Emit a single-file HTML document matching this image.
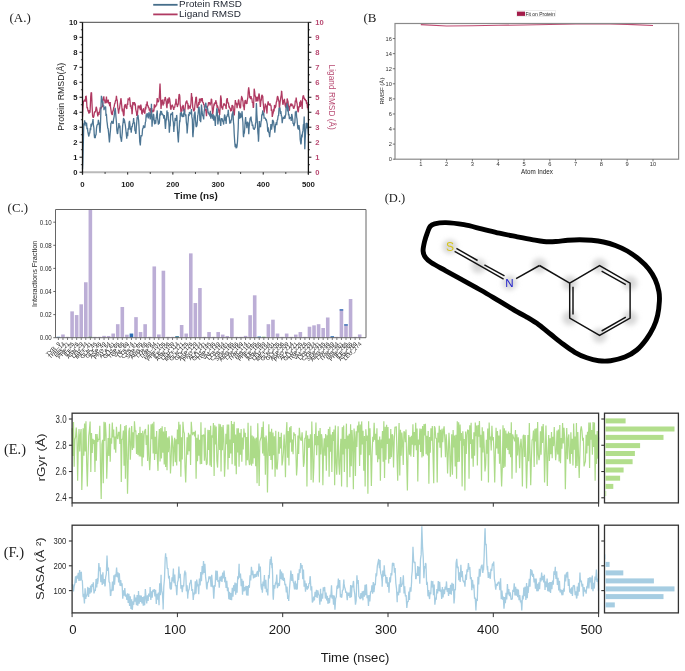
<!DOCTYPE html>
<html><head><meta charset="utf-8"><title>figure</title>
<style>html,body{margin:0;padding:0;background:#fff;width:685px;height:671px;overflow:hidden}svg{display:block;will-change:transform}</style>
</head><body>
<svg width="685" height="671" viewBox="0 0 685 671">
<rect width="685" height="671" fill="#fff"/>
<text x="9.5" y="21.9" font-size="13.2" fill="#222" text-anchor="start" font-weight="normal" font-family='"Liberation Serif", serif' textLength="21.3" lengthAdjust="spacingAndGlyphs" >(A.)</text>
<text x="363.4" y="21.7" font-size="13.2" fill="#222" text-anchor="start" font-weight="normal" font-family='"Liberation Serif", serif' textLength="13" lengthAdjust="spacingAndGlyphs" >(B</text>
<text x="7.6" y="212.1" font-size="13.2" fill="#222" text-anchor="start" font-weight="normal" font-family='"Liberation Serif", serif' textLength="20.4" lengthAdjust="spacingAndGlyphs" >(C.)</text>
<text x="384.7" y="201.7" font-size="12.8" fill="#222" text-anchor="start" font-weight="normal" font-family='"Liberation Serif", serif' textLength="20.5" lengthAdjust="spacingAndGlyphs" >(D.)</text>
<text x="4" y="453.9" font-size="14.2" fill="#222" text-anchor="start" font-weight="normal" font-family='"Liberation Serif", serif' textLength="22" lengthAdjust="spacingAndGlyphs" >(E.)</text>
<text x="3.7" y="557.2" font-size="14" fill="#222" text-anchor="start" font-weight="normal" font-family='"Liberation Serif", serif' textLength="20.4" lengthAdjust="spacingAndGlyphs" >(F.)</text>
<line x1="153.2" y1="4.8" x2="177.6" y2="4.8" stroke="#466e8a" stroke-width="1.8" />
<line x1="153.2" y1="14.4" x2="177.6" y2="14.4" stroke="#b03a62" stroke-width="1.8" />
<text x="179.1" y="6.9" font-size="8.8" fill="#1e2430" text-anchor="start" font-weight="normal" font-family='"Liberation Sans", sans-serif' textLength="62.7" lengthAdjust="spacingAndGlyphs" >Protein RMSD</text>
<text x="179.1" y="16.9" font-size="8.8" fill="#1e2430" text-anchor="start" font-weight="normal" font-family='"Liberation Sans", sans-serif' textLength="61.8" lengthAdjust="spacingAndGlyphs" >Ligand RMSD</text>
<polyline points="82.50,116.74 82.68,112.24 82.95,107.08 83.36,102.05 83.86,101.12 84.35,100.10 84.76,100.38 85.35,101.45 85.66,96.49 86.20,96.35 86.57,100.24 87.02,108.19 87.47,107.87 88.01,110.89 88.37,111.29 89.01,113.59 89.28,110.08 89.73,112.92 90.09,111.49 90.72,96.80 91.08,92.90 91.54,92.45 92.12,106.84 92.62,116.14 92.89,116.66 93.30,117.64 93.89,116.14 94.25,113.63 94.61,111.49 95.15,111.95 95.42,112.24 96.19,106.84 96.51,107.62 96.91,109.54 97.59,114.94 97.86,116.34 98.22,112.24 98.90,114.94 99.22,112.20 99.62,112.24 100.30,107.44 100.57,109.23 101.11,108.19 101.48,107.44 102.11,106.24 102.38,106.36 102.83,99.02 103.10,100.10 103.82,96.35 104.19,100.74 104.50,99.50 105.09,102.87 105.41,102.80 105.99,100.61 106.22,99.50 106.45,96.43 106.90,103.29 107.21,100.10 107.80,102.03 108.21,99.50 108.70,103.56 109.02,102.05 109.70,106.24 110.20,102.05 110.51,107.00 110.92,109.54 111.51,113.59 111.87,114.26 112.32,114.94 112.77,111.16 113.22,110.89 113.67,107.63 114.13,106.84 114.58,103.84 114.89,103.55 115.62,100.10 115.93,100.46 116.43,95.75 116.84,100.14 117.20,100.10 117.92,108.19 118.19,109.91 118.60,113.59 119.10,108.98 119.41,109.54 120.00,104.75 120.32,103.25 120.90,98.20 121.22,100.10 121.81,106.65 122.03,109.54 122.26,111.38 122.71,108.57 123.03,112.24 123.70,116.14 124.07,114.35 124.43,106.24 125.01,104.74 125.42,104.27 126.01,108.19 126.32,106.79 126.78,109.03 127.00,106.24 127.23,103.60 127.68,105.04 127.91,100.85 128.13,99.14 128.72,99.50 129.04,99.74 129.53,97.40 129.94,100.41 130.44,106.84 130.84,104.82 131.29,108.19 131.75,109.15 131.97,113.59 132.20,113.59 132.83,102.05 133.10,105.05 133.55,102.24 133.82,104.15 134.46,102.15 134.82,104.74 135.36,104.39 135.63,108.94 136.44,112.24 136.72,115.36 137.30,115.54 137.62,111.99 138.12,105.49 138.52,108.18 139.11,105.49 139.43,108.52 139.88,105.54 140.10,108.19 140.33,110.22 140.78,104.63 141.14,106.24 141.82,113.59 142.14,113.81 142.72,109.54 143.04,111.01 143.54,108.19 143.94,112.74 144.53,110.89 144.85,113.81 145.44,106.84 145.75,109.40 146.34,104.15 146.66,105.38 147.24,101.45 147.56,106.12 148.15,105.49 148.46,108.28 148.91,107.44 149.37,110.68 149.91,108.94 150.27,112.50 150.72,108.17 150.95,112.24 151.17,115.68 151.72,108.19 152.08,111.01 152.62,110.89 152.98,112.22 153.61,109.54 153.88,111.53 154.34,104.36 154.65,108.19 155.24,105.76 155.65,106.84 156.14,104.54 156.64,105.49 157.23,98.15 157.50,102.24 157.95,101.45 158.40,102.02 158.85,100.10 159.31,97.27 159.53,93.35 159.76,88.36 160.03,83.46 160.62,98.75 161.02,108.94 161.75,100.10 162.02,101.82 162.42,99.50 163.01,105.49 163.37,103.91 163.91,103.55 164.28,99.31 164.73,100.10 165.18,97.00 165.54,98.15 166.22,102.05 166.53,105.91 166.94,108.19 167.57,100.10 167.89,98.58 168.48,103.55 168.79,100.40 169.16,97.40 169.74,99.50 170.15,102.88 170.65,109.54 171.05,109.19 171.46,105.49 171.96,106.21 172.36,104.74 172.86,106.81 173.13,107.44 173.76,109.90 174.13,106.84 174.67,107.75 175.16,104.15 175.57,103.96 176.02,98.75 176.47,104.44 176.84,103.55 177.38,107.02 177.65,105.49 178.28,104.04 178.55,99.50 179.14,94.10 179.64,95.09 179.86,97.40 180.09,104.06 180.54,106.84 180.99,112.55 181.44,110.14 181.90,111.45 182.26,106.84 182.80,106.19 183.03,105.49 183.25,105.61 183.84,110.89 184.15,109.72 184.74,112.24 185.06,108.49 185.56,104.15 185.96,102.13 186.37,101.45 186.87,100.57 187.23,103.55 187.77,102.99 188.13,109.54 188.67,104.78 188.94,106.84 189.76,106.24 190.03,108.86 190.66,105.49 190.93,103.47 191.47,93.05 191.84,98.27 192.24,96.80 192.74,107.34 193.06,108.19 193.64,110.64 193.96,110.89 194.55,109.69 194.86,105.49 195.63,100.10 195.90,96.94 196.44,97.40 196.85,104.74 197.26,107.96 197.75,106.84 198.16,105.67 198.75,102.05 199.06,104.89 199.52,98.53 199.74,100.85 199.97,103.02 200.42,98.70 200.74,100.10 201.32,98.29 201.73,101.45 202.23,98.10 202.77,102.80 203.13,102.13 203.76,104.74 204.03,104.38 204.49,107.78 204.76,108.19 205.39,110.56 205.75,108.94 206.47,116.14 206.75,112.11 207.15,110.14 207.65,105.78 207.96,106.24 208.55,102.29 208.96,103.55 209.46,102.37 210.09,105.49 210.36,103.73 210.95,102.80 211.26,98.79 211.67,99.50 212.26,108.94 212.62,114.42 212.98,112.24 213.66,106.84 213.97,104.35 214.56,104.74 214.88,102.42 215.33,103.97 215.56,102.05 215.78,100.22 216.23,102.40 216.55,102.80 217.14,108.24 217.36,105.49 217.59,106.05 218.18,108.19 218.49,109.13 219.08,112.84 219.40,110.84 219.67,114.94 220.25,105.49 220.66,95.45 221.25,98.75 221.65,107.23 221.88,108.19 222.11,107.42 222.56,109.54 223.01,106.47 223.46,105.49 223.91,103.39 224.27,104.15 224.82,104.53 225.09,105.49 225.72,105.70 225.95,108.19 226.17,108.26 226.58,100.10 227.26,98.15 227.53,101.15 228.16,103.55 228.43,102.47 228.97,106.84 229.33,106.69 229.79,108.19 230.24,108.39 230.69,111.49 231.14,109.18 231.50,110.89 232.05,104.95 232.32,105.49 233.08,106.24 233.40,111.54 233.99,114.94 234.30,115.19 234.67,109.54 235.34,100.10 235.66,101.96 236.16,103.55 236.56,103.14 237.06,108.19 237.47,104.98 237.78,105.49 238.37,100.68 238.69,99.50 239.46,104.74 239.73,107.26 240.27,108.19 240.63,107.25 240.90,102.05 241.58,96.80 241.99,97.11 242.30,98.75 242.98,101.45 243.34,106.05 243.57,106.24 243.79,106.34 244.29,110.14 244.70,103.24 244.97,100.85 245.60,100.10 246.05,103.28 246.50,103.55 246.96,103.49 247.41,99.50 247.86,97.45 248.18,92.15 248.67,87.36 249.39,92.75 249.67,97.31 250.16,97.40 250.57,99.10 250.98,96.05 251.47,98.62 251.88,98.75 252.38,102.97 252.78,102.05 253.28,107.93 253.60,106.84 254.18,88.71 254.64,91.62 254.91,94.85 255.72,97.40 255.99,101.61 256.58,100.10 256.89,97.68 257.30,96.80 257.80,101.35 258.07,100.10 258.88,94.10 259.15,93.63 259.56,97.40 260.06,102.34 260.37,106.84 260.96,100.15 261.28,100.10 261.86,94.73 262.27,95.45 262.77,96.48 263.08,102.05 263.76,108.19 264.12,112.67 264.39,110.89 265.03,106.79 265.30,103.55 265.93,106.62 266.20,105.49 266.97,113.59 267.29,106.71 267.78,103.55 268.19,101.37 268.69,104.74 269.09,103.87 269.50,105.49 270.00,103.30 270.31,104.74 270.90,105.62 271.13,106.84 271.35,110.97 271.80,109.41 272.03,111.49 272.26,116.99 272.89,113.59 273.16,113.28 273.79,108.94 274.06,111.46 274.51,104.92 274.92,108.19 275.42,107.26 275.83,106.24 276.32,101.96 276.73,101.45 277.23,97.30 277.63,96.05 278.13,97.93 278.45,100.10 279.03,101.66 279.26,106.84 279.48,107.95 280.07,102.80 280.39,100.16 280.80,97.40 281.29,94.76 281.52,91.40 281.74,91.46 282.20,97.40 282.83,104.74 283.10,104.31 283.73,100.10 284.00,100.96 284.41,98.75 284.91,103.79 285.22,105.49 285.81,107.66 286.04,106.84 286.26,102.64 286.71,106.07 286.94,102.05 287.17,98.43 287.57,100.10 288.07,101.97 288.29,104.74 288.52,106.92 288.97,108.19 289.42,110.80 289.79,106.24 290.33,105.77 290.60,103.55 291.23,106.23 291.50,103.55 292.32,105.49 292.59,104.68 293.22,107.44 293.49,108.27 294.03,108.19 294.39,106.41 294.85,105.49 295.30,100.66 295.75,101.45 296.20,97.53 296.65,102.05 297.10,103.44 297.47,108.19 298.05,112.24 298.46,110.65 298.78,106.24 299.36,107.55 299.59,105.49 299.82,101.79 300.27,106.99 300.49,102.80 300.72,100.35 301.17,105.45 301.40,101.45 301.62,102.42 302.21,108.94 302.53,99.57 303.02,96.05 303.61,95.45 303.88,98.15 304.33,98.15 304.79,99.97 305.24,98.75 305.69,101.13 306.14,100.10 306.59,103.81 306.91,102.05 307.50,108.13 307.72,105.49 307.95,103.88 308.40,110.14" fill="none" stroke="#b03a62" stroke-width="1.3" stroke-linejoin="miter" stroke-miterlimit="2" />
<polyline points="82.50,169.20 82.77,163.21 83.09,151.21 83.40,139.97 83.81,123.18 84.31,125.40 84.60,120.33 85.21,124.22 85.62,121.98 86.11,126.27 86.57,122.90 86.79,125.58 87.02,129.31 87.47,127.91 87.70,130.38 87.92,132.23 88.51,135.17 88.83,136.50 89.41,132.78 89.73,133.51 90.32,127.98 90.63,130.10 91.08,123.81 91.31,125.58 91.54,125.74 92.12,123.18 92.44,123.07 93.03,119.14 93.34,124.31 93.89,127.98 94.25,134.93 94.52,137.57 95.29,137.57 95.60,134.76 96.01,135.17 96.51,128.17 96.91,125.58 97.50,124.38 97.86,124.95 98.40,119.73 98.76,123.13 99.31,123.18 99.67,130.36 100.12,132.78 100.57,121.68 100.80,113.74 101.02,105.67 101.43,95.90 101.93,98.05 102.20,101.75 102.83,101.87 103.19,106.54 103.73,105.30 104.01,110.14 104.64,107.11 104.91,107.74 105.63,106.54 105.99,115.89 106.40,113.74 106.90,120.98 107.21,123.18 107.80,128.69 108.03,127.98 108.25,129.67 108.79,135.17 109.16,139.43 109.43,142.37 110.10,133.98 110.51,129.59 110.92,123.18 111.42,123.04 111.82,120.93 112.32,122.68 112.73,123.18 113.22,123.59 113.49,119.73 114.13,116.59 114.40,113.74 115.12,107.74 115.48,110.31 115.80,114.94 116.52,123.18 116.84,130.11 117.42,133.98 117.74,133.38 118.10,129.18 118.64,126.44 118.92,123.18 119.55,128.12 119.91,125.58 120.45,137.50 120.72,137.27 121.49,141.77 121.81,137.37 122.26,132.65 122.62,126.03 123.16,121.80 123.39,119.44 123.61,117.95 124.07,122.86 124.34,119.44 124.97,123.31 125.24,124.53 126.01,131.28 126.32,134.12 126.73,138.77 127.23,132.43 127.45,132.78 127.68,136.24 128.13,128.19 128.63,129.78 129.04,122.94 129.53,120.93 129.94,124.83 130.30,129.78 130.84,127.82 131.20,132.78 131.93,126.03 132.20,127.07 132.83,123.03 133.10,123.75 133.64,117.94 134.01,123.58 134.50,122.28 134.91,130.47 135.41,131.28 135.81,133.87 136.04,132.78 136.26,127.96 136.81,121.53 137.17,116.72 137.62,117.76 137.94,114.94 138.66,120.93 138.97,125.96 139.25,131.28 139.74,141.77 140.33,145.37 140.78,138.16 141.05,135.77 141.82,135.77 142.14,134.63 142.63,128.28 143.04,128.61 143.54,125.28 143.94,128.20 144.44,126.03 144.85,127.80 145.35,122.28 145.75,121.15 146.20,114.34 146.43,115.54 146.66,117.39 147.11,113.11 147.42,116.44 148.01,113.75 148.33,118.54 148.91,112.30 149.23,113.44 149.82,115.63 150.22,119.44 150.72,113.98 150.95,113.44 151.17,112.45 151.44,103.70 152.03,126.78 152.53,119.26 152.85,119.44 153.43,113.90 153.75,114.94 154.43,123.03 154.79,124.23 155.42,120.03 155.69,123.62 156.14,117.97 156.46,116.44 157.23,110.44 157.50,117.81 158.04,120.93 158.40,124.59 158.94,121.53 159.31,123.61 159.94,113.44 160.21,115.64 160.66,110.85 161.02,111.94 161.56,111.29 161.93,114.94 162.47,114.21 162.83,114.94 163.37,115.16 163.82,118.54 164.28,115.16 164.73,118.54 165.18,125.93 165.45,129.03 166.22,118.54 166.53,120.57 166.94,110.44 167.44,115.32 167.85,111.94 168.34,118.66 168.84,122.28 169.34,132.78 169.70,126.36 169.92,126.03 170.15,125.85 170.74,113.44 171.05,115.11 171.64,113.44 171.96,114.97 172.54,111.94 172.86,120.05 173.36,122.28 173.85,132.03 174.22,125.12 174.58,125.28 175.12,118.51 175.39,118.54 176.11,120.93 176.66,114.94 176.93,117.22 177.24,126.03 177.83,135.77 178.37,142.52 178.73,134.22 179.05,131.28 179.64,120.34 179.86,122.28 180.09,119.74 180.41,112.69 180.99,115.43 181.26,111.94 181.90,116.67 182.26,114.94 182.80,117.02 183.39,113.44 183.70,117.03 184.15,109.29 184.43,111.19 185.06,114.00 185.65,115.54 185.96,115.35 186.32,122.28 186.87,126.21 187.14,133.53 187.86,123.78 188.22,120.55 188.54,114.94 189.12,115.19 189.44,111.94 190.03,113.76 190.44,112.69 190.93,114.22 191.43,108.94 191.84,116.90 192.33,119.44 192.74,134.93 192.97,137.27 193.19,133.33 193.64,128.28 194.09,116.13 194.55,113.44 195.00,111.61 195.22,114.94 195.45,119.65 196.04,126.03 196.35,127.10 196.94,125.28 197.26,122.43 197.71,115.57 197.93,114.94 198.16,113.25 198.61,107.54 199.06,106.69 199.52,112.09 199.97,120.93 200.42,119.56 200.65,122.28 200.87,119.81 201.46,104.45 201.78,108.26 202.14,111.94 202.68,116.12 202.95,114.94 203.67,119.44 204.03,113.10 204.35,110.44 204.94,106.27 205.39,104.45 205.84,102.69 206.38,108.19 206.75,106.20 207.24,109.69 207.65,108.28 208.10,113.08 208.37,111.94 209.00,114.64 209.46,113.44 209.91,116.39 210.36,110.80 210.59,114.94 210.81,118.81 211.26,113.51 211.67,116.44 212.17,114.76 212.62,118.72 212.84,117.94 213.07,114.01 213.52,120.57 213.97,115.54 214.43,116.94 214.83,119.44 215.33,126.04 215.56,121.53 215.78,117.14 216.37,114.94 216.68,109.08 217.05,108.19 217.59,115.99 217.86,124.53 218.54,118.54 218.94,118.28 219.26,114.94 219.85,121.55 220.07,120.93 220.30,122.83 220.75,126.03 221.20,118.37 221.74,119.44 222.11,118.30 222.74,121.53 223.01,120.56 223.64,124.53 223.91,120.94 224.55,114.94 224.82,114.72 225.45,120.93 225.72,118.75 226.17,123.88 226.44,117.04 227.08,116.47 227.35,114.94 227.98,113.41 228.25,109.69 228.88,117.47 229.15,116.44 229.79,123.68 230.15,120.93 230.69,123.07 231.05,120.03 231.59,119.94 231.96,114.94 232.68,112.69 232.95,111.26 233.49,122.28 233.85,125.35 234.17,133.23 234.71,141.77 235.21,147.15 235.62,143.87 236.11,147.86 236.65,147.77 237.02,146.30 237.47,141.77 237.92,133.56 238.19,128.28 238.69,111.19 239.27,113.79 239.50,118.54 239.73,118.17 240.18,112.69 240.63,117.71 241.17,116.44 241.53,116.14 242.08,111.19 242.44,117.66 242.89,122.28 243.34,135.26 243.57,137.27 243.79,134.19 244.38,132.78 244.70,128.70 245.28,120.03 245.60,116.97 245.96,122.28 246.50,123.94 246.86,128.28 247.41,121.87 247.86,122.28 248.31,123.68 248.76,134.28 249.21,126.33 249.67,122.28 250.12,118.34 250.48,117.94 251.02,116.66 251.38,120.93 251.92,122.49 252.29,126.03 252.83,124.61 253.28,128.28 253.73,128.59 254.18,129.78 254.64,127.73 255.09,128.28 255.54,123.22 255.86,122.28 256.40,102.95 256.89,114.68 257.17,118.54 257.89,132.78 258.25,135.65 258.48,141.77 258.70,138.11 259.29,120.93 259.61,127.11 260.19,126.03 260.51,127.16 261.10,120.93 261.41,121.29 261.77,114.94 262.32,114.20 262.77,110.44 263.22,115.34 263.67,112.69 264.12,118.11 264.58,117.94 265.03,118.24 265.48,118.36 265.80,120.03 266.38,119.89 266.88,122.28 267.29,124.18 267.74,131.67 267.96,128.28 268.19,127.22 268.64,132.75 269.00,132.03 269.68,137.27 270.00,132.93 270.58,128.28 270.90,123.98 271.53,129.78 271.80,127.27 272.26,124.90 272.53,120.03 272.98,120.48 273.61,121.89 273.97,125.43 274.51,128.63 274.79,132.78 275.55,124.53 275.87,124.28 276.37,122.13 276.77,125.10 277.23,119.80 277.50,120.48 278.13,115.80 278.58,115.54 279.03,107.69 279.62,109.84 279.94,107.46 280.52,113.89 280.84,111.00 281.43,116.44 281.74,115.75 282.20,123.09 282.42,121.23 282.65,119.12 283.10,118.75 283.42,117.19 284.00,118.86 284.54,115.54 284.91,118.54 285.31,116.44 285.81,114.23 286.04,108.19 286.26,106.13 286.80,106.54 287.17,103.20 287.62,111.39 287.84,108.94 288.07,106.50 288.52,115.59 288.75,113.89 288.97,114.56 289.42,119.10 289.88,117.19 290.33,117.76 290.96,117.94 291.23,120.95 291.68,114.04 291.95,114.79 292.77,119.73 293.04,123.40 293.58,123.78 293.94,126.18 294.57,123.03 294.85,122.67 295.39,111.49 295.75,113.33 296.20,110.74 296.65,117.04 297.01,118.84 297.74,127.83 298.01,128.39 298.55,129.48 298.91,125.11 299.36,127.83 299.82,131.54 300.18,139.37 300.90,144.32 301.17,143.24 301.71,134.43 302.07,137.38 302.48,132.78 302.98,130.63 303.39,124.53 303.88,124.21 304.20,116.44 304.79,149.27 305.24,137.62 305.55,132.78 306.14,123.09 306.37,126.18 306.59,128.49 307.04,123.46 307.50,123.78 307.95,127.60 308.40,134.43" fill="none" stroke="#4c7593" stroke-width="1.3" stroke-linejoin="miter" stroke-miterlimit="2" />
<line x1="82.5" y1="22.3" x2="308.4" y2="22.3" stroke="#333" stroke-width="0.9" />
<line x1="82.5" y1="172.2" x2="308.4" y2="172.2" stroke="#bababa" stroke-width="2.0" />
<line x1="82.5" y1="22.3" x2="82.5" y2="174.5" stroke="#111" stroke-width="1.3" />
<line x1="308.4" y1="22.3" x2="308.4" y2="174.5" stroke="#111" stroke-width="1.3" />
<line x1="79.5" y1="172.2" x2="82.5" y2="172.2" stroke="#111" stroke-width="1" />
<line x1="308.4" y1="172.2" x2="311.4" y2="172.2" stroke="#111" stroke-width="1" />
<text x="77.4" y="175.2" font-size="7.6" fill="#1a1a1a" text-anchor="end" font-weight="bold" font-family='"Liberation Sans", sans-serif' >0</text>
<text x="315.2" y="175.2" font-size="7.6" fill="#b84a72" text-anchor="start" font-weight="bold" font-family='"Liberation Sans", sans-serif' >0</text>
<line x1="80.9" y1="164.7" x2="82.5" y2="164.7" stroke="#111" stroke-width="0.8" />
<line x1="308.4" y1="164.7" x2="310" y2="164.7" stroke="#111" stroke-width="0.8" />
<line x1="79.5" y1="157.21" x2="82.5" y2="157.21" stroke="#111" stroke-width="1" />
<line x1="308.4" y1="157.21" x2="311.4" y2="157.21" stroke="#111" stroke-width="1" />
<text x="77.4" y="160.21" font-size="7.6" fill="#1a1a1a" text-anchor="end" font-weight="bold" font-family='"Liberation Sans", sans-serif' >1</text>
<text x="315.2" y="160.21" font-size="7.6" fill="#b84a72" text-anchor="start" font-weight="bold" font-family='"Liberation Sans", sans-serif' >1</text>
<line x1="80.9" y1="149.71" x2="82.5" y2="149.71" stroke="#111" stroke-width="0.8" />
<line x1="308.4" y1="149.71" x2="310" y2="149.71" stroke="#111" stroke-width="0.8" />
<line x1="79.5" y1="142.22" x2="82.5" y2="142.22" stroke="#111" stroke-width="1" />
<line x1="308.4" y1="142.22" x2="311.4" y2="142.22" stroke="#111" stroke-width="1" />
<text x="77.4" y="145.22" font-size="7.6" fill="#1a1a1a" text-anchor="end" font-weight="bold" font-family='"Liberation Sans", sans-serif' >2</text>
<text x="315.2" y="145.22" font-size="7.6" fill="#b84a72" text-anchor="start" font-weight="bold" font-family='"Liberation Sans", sans-serif' >2</text>
<line x1="80.9" y1="134.72" x2="82.5" y2="134.72" stroke="#111" stroke-width="0.8" />
<line x1="308.4" y1="134.72" x2="310" y2="134.72" stroke="#111" stroke-width="0.8" />
<line x1="79.5" y1="127.23" x2="82.5" y2="127.23" stroke="#111" stroke-width="1" />
<line x1="308.4" y1="127.23" x2="311.4" y2="127.23" stroke="#111" stroke-width="1" />
<text x="77.4" y="130.23" font-size="7.6" fill="#1a1a1a" text-anchor="end" font-weight="bold" font-family='"Liberation Sans", sans-serif' >3</text>
<text x="315.2" y="130.23" font-size="7.6" fill="#b84a72" text-anchor="start" font-weight="bold" font-family='"Liberation Sans", sans-serif' >3</text>
<line x1="80.9" y1="119.73" x2="82.5" y2="119.73" stroke="#111" stroke-width="0.8" />
<line x1="308.4" y1="119.73" x2="310" y2="119.73" stroke="#111" stroke-width="0.8" />
<line x1="79.5" y1="112.24" x2="82.5" y2="112.24" stroke="#111" stroke-width="1" />
<line x1="308.4" y1="112.24" x2="311.4" y2="112.24" stroke="#111" stroke-width="1" />
<text x="77.4" y="115.24" font-size="7.6" fill="#1a1a1a" text-anchor="end" font-weight="bold" font-family='"Liberation Sans", sans-serif' >4</text>
<text x="315.2" y="115.24" font-size="7.6" fill="#b84a72" text-anchor="start" font-weight="bold" font-family='"Liberation Sans", sans-serif' >4</text>
<line x1="80.9" y1="104.74" x2="82.5" y2="104.74" stroke="#111" stroke-width="0.8" />
<line x1="308.4" y1="104.74" x2="310" y2="104.74" stroke="#111" stroke-width="0.8" />
<line x1="79.5" y1="97.25" x2="82.5" y2="97.25" stroke="#111" stroke-width="1" />
<line x1="308.4" y1="97.25" x2="311.4" y2="97.25" stroke="#111" stroke-width="1" />
<text x="77.4" y="100.25" font-size="7.6" fill="#1a1a1a" text-anchor="end" font-weight="bold" font-family='"Liberation Sans", sans-serif' >5</text>
<text x="315.2" y="100.25" font-size="7.6" fill="#b84a72" text-anchor="start" font-weight="bold" font-family='"Liberation Sans", sans-serif' >5</text>
<line x1="80.9" y1="89.75" x2="82.5" y2="89.75" stroke="#111" stroke-width="0.8" />
<line x1="308.4" y1="89.75" x2="310" y2="89.75" stroke="#111" stroke-width="0.8" />
<line x1="79.5" y1="82.26" x2="82.5" y2="82.26" stroke="#111" stroke-width="1" />
<line x1="308.4" y1="82.26" x2="311.4" y2="82.26" stroke="#111" stroke-width="1" />
<text x="77.4" y="85.26" font-size="7.6" fill="#1a1a1a" text-anchor="end" font-weight="bold" font-family='"Liberation Sans", sans-serif' >6</text>
<text x="315.2" y="85.26" font-size="7.6" fill="#b84a72" text-anchor="start" font-weight="bold" font-family='"Liberation Sans", sans-serif' >6</text>
<line x1="80.9" y1="74.76" x2="82.5" y2="74.76" stroke="#111" stroke-width="0.8" />
<line x1="308.4" y1="74.76" x2="310" y2="74.76" stroke="#111" stroke-width="0.8" />
<line x1="79.5" y1="67.27" x2="82.5" y2="67.27" stroke="#111" stroke-width="1" />
<line x1="308.4" y1="67.27" x2="311.4" y2="67.27" stroke="#111" stroke-width="1" />
<text x="77.4" y="70.27" font-size="7.6" fill="#1a1a1a" text-anchor="end" font-weight="bold" font-family='"Liberation Sans", sans-serif' >7</text>
<text x="315.2" y="70.27" font-size="7.6" fill="#b84a72" text-anchor="start" font-weight="bold" font-family='"Liberation Sans", sans-serif' >7</text>
<line x1="80.9" y1="59.77" x2="82.5" y2="59.77" stroke="#111" stroke-width="0.8" />
<line x1="308.4" y1="59.77" x2="310" y2="59.77" stroke="#111" stroke-width="0.8" />
<line x1="79.5" y1="52.28" x2="82.5" y2="52.28" stroke="#111" stroke-width="1" />
<line x1="308.4" y1="52.28" x2="311.4" y2="52.28" stroke="#111" stroke-width="1" />
<text x="77.4" y="55.28" font-size="7.6" fill="#1a1a1a" text-anchor="end" font-weight="bold" font-family='"Liberation Sans", sans-serif' >8</text>
<text x="315.2" y="55.28" font-size="7.6" fill="#b84a72" text-anchor="start" font-weight="bold" font-family='"Liberation Sans", sans-serif' >8</text>
<line x1="80.9" y1="44.78" x2="82.5" y2="44.78" stroke="#111" stroke-width="0.8" />
<line x1="308.4" y1="44.78" x2="310" y2="44.78" stroke="#111" stroke-width="0.8" />
<line x1="79.5" y1="37.29" x2="82.5" y2="37.29" stroke="#111" stroke-width="1" />
<line x1="308.4" y1="37.29" x2="311.4" y2="37.29" stroke="#111" stroke-width="1" />
<text x="77.4" y="40.29" font-size="7.6" fill="#1a1a1a" text-anchor="end" font-weight="bold" font-family='"Liberation Sans", sans-serif' >9</text>
<text x="315.2" y="40.29" font-size="7.6" fill="#b84a72" text-anchor="start" font-weight="bold" font-family='"Liberation Sans", sans-serif' >9</text>
<line x1="80.9" y1="29.79" x2="82.5" y2="29.79" stroke="#111" stroke-width="0.8" />
<line x1="308.4" y1="29.79" x2="310" y2="29.79" stroke="#111" stroke-width="0.8" />
<line x1="79.5" y1="22.3" x2="82.5" y2="22.3" stroke="#111" stroke-width="1" />
<line x1="308.4" y1="22.3" x2="311.4" y2="22.3" stroke="#111" stroke-width="1" />
<text x="77.4" y="25.3" font-size="7.6" fill="#1a1a1a" text-anchor="end" font-weight="bold" font-family='"Liberation Sans", sans-serif' >10</text>
<text x="315.2" y="25.3" font-size="7.6" fill="#b84a72" text-anchor="start" font-weight="bold" font-family='"Liberation Sans", sans-serif' >10</text>
<line x1="82.5" y1="172.2" x2="82.5" y2="174.6" stroke="#222" stroke-width="1" />
<line x1="105.09" y1="172.2" x2="105.09" y2="173.8" stroke="#222" stroke-width="1" />
<line x1="127.68" y1="172.2" x2="127.68" y2="174.6" stroke="#222" stroke-width="1" />
<line x1="150.27" y1="172.2" x2="150.27" y2="173.8" stroke="#222" stroke-width="1" />
<line x1="172.86" y1="172.2" x2="172.86" y2="174.6" stroke="#222" stroke-width="1" />
<line x1="195.45" y1="172.2" x2="195.45" y2="173.8" stroke="#222" stroke-width="1" />
<line x1="218.04" y1="172.2" x2="218.04" y2="174.6" stroke="#222" stroke-width="1" />
<line x1="240.63" y1="172.2" x2="240.63" y2="173.8" stroke="#222" stroke-width="1" />
<line x1="263.22" y1="172.2" x2="263.22" y2="174.6" stroke="#222" stroke-width="1" />
<line x1="285.81" y1="172.2" x2="285.81" y2="173.8" stroke="#222" stroke-width="1" />
<line x1="308.4" y1="172.2" x2="308.4" y2="174.6" stroke="#222" stroke-width="1" />
<text x="82.5" y="187" font-size="7.8" fill="#1a1a1a" text-anchor="middle" font-weight="bold" font-family='"Liberation Sans", sans-serif' >0</text>
<text x="127.68" y="187" font-size="7.8" fill="#1a1a1a" text-anchor="middle" font-weight="bold" font-family='"Liberation Sans", sans-serif' >100</text>
<text x="172.86" y="187" font-size="7.8" fill="#1a1a1a" text-anchor="middle" font-weight="bold" font-family='"Liberation Sans", sans-serif' >200</text>
<text x="218.04" y="187" font-size="7.8" fill="#1a1a1a" text-anchor="middle" font-weight="bold" font-family='"Liberation Sans", sans-serif' >300</text>
<text x="263.22" y="187" font-size="7.8" fill="#1a1a1a" text-anchor="middle" font-weight="bold" font-family='"Liberation Sans", sans-serif' >400</text>
<text x="308.4" y="187" font-size="7.8" fill="#1a1a1a" text-anchor="middle" font-weight="bold" font-family='"Liberation Sans", sans-serif' >500</text>
<text x="196" y="199.1" font-size="9.4" fill="#1a1a1a" text-anchor="middle" font-weight="bold" font-family='"Liberation Sans", sans-serif' textLength="43.8" lengthAdjust="spacingAndGlyphs" >Time (ns)</text>
<text x="0" y="0" font-size="8.8" fill="#1a1a1a" text-anchor="middle" font-weight="normal" font-family='"Liberation Sans", sans-serif' transform="translate(64.2,96.7) rotate(-90)">Protein RMSD(Å)</text>
<text x="0" y="0" font-size="8.8" fill="#b84a72" text-anchor="middle" font-weight="normal" font-family='"Liberation Sans", sans-serif' textLength="65.2" lengthAdjust="spacingAndGlyphs" transform="translate(329,97.2) rotate(90)">Ligand RMSD (Å)</text>
<path d="M420.80,24.61 446.60,25.97 472.40,25.74 498.20,25.29 524.00,24.99 549.80,24.54 575.60,23.86 601.40,23.71 627.20,24.38 653.00,25.52" fill="none" stroke="#c04870" stroke-width="1.1"/>
<rect x="395.0" y="23.5" width="283.60" height="135.70" fill="none" stroke="#8a8a8a" stroke-width="1.2"/>
<line x1="392.8" y1="159.2" x2="395" y2="159.2" stroke="#555" stroke-width="0.8" />
<text x="391.9" y="161.2" font-size="5.7" fill="#333" text-anchor="end" font-weight="normal" font-family='"Liberation Sans", sans-serif' >0</text>
<line x1="392.8" y1="144.12" x2="395" y2="144.12" stroke="#555" stroke-width="0.8" />
<text x="391.9" y="146.12" font-size="5.7" fill="#333" text-anchor="end" font-weight="normal" font-family='"Liberation Sans", sans-serif' >2</text>
<line x1="392.8" y1="129.04" x2="395" y2="129.04" stroke="#555" stroke-width="0.8" />
<text x="391.9" y="131.04" font-size="5.7" fill="#333" text-anchor="end" font-weight="normal" font-family='"Liberation Sans", sans-serif' >4</text>
<line x1="392.8" y1="113.96" x2="395" y2="113.96" stroke="#555" stroke-width="0.8" />
<text x="391.9" y="115.96" font-size="5.7" fill="#333" text-anchor="end" font-weight="normal" font-family='"Liberation Sans", sans-serif' >6</text>
<line x1="392.8" y1="98.88" x2="395" y2="98.88" stroke="#555" stroke-width="0.8" />
<text x="391.9" y="100.88" font-size="5.7" fill="#333" text-anchor="end" font-weight="normal" font-family='"Liberation Sans", sans-serif' >8</text>
<line x1="392.8" y1="83.8" x2="395" y2="83.8" stroke="#555" stroke-width="0.8" />
<text x="391.9" y="85.8" font-size="5.7" fill="#333" text-anchor="end" font-weight="normal" font-family='"Liberation Sans", sans-serif' >10</text>
<line x1="392.8" y1="68.72" x2="395" y2="68.72" stroke="#555" stroke-width="0.8" />
<text x="391.9" y="70.72" font-size="5.7" fill="#333" text-anchor="end" font-weight="normal" font-family='"Liberation Sans", sans-serif' >12</text>
<line x1="392.8" y1="53.64" x2="395" y2="53.64" stroke="#555" stroke-width="0.8" />
<text x="391.9" y="55.64" font-size="5.7" fill="#333" text-anchor="end" font-weight="normal" font-family='"Liberation Sans", sans-serif' >14</text>
<line x1="392.8" y1="38.56" x2="395" y2="38.56" stroke="#555" stroke-width="0.8" />
<text x="391.9" y="40.56" font-size="5.7" fill="#333" text-anchor="end" font-weight="normal" font-family='"Liberation Sans", sans-serif' >16</text>
<line x1="420.8" y1="159.2" x2="420.8" y2="161.4" stroke="#555" stroke-width="0.8" />
<text x="420.8" y="166.2" font-size="5.7" fill="#333" text-anchor="middle" font-weight="normal" font-family='"Liberation Sans", sans-serif' >1</text>
<line x1="446.6" y1="159.2" x2="446.6" y2="161.4" stroke="#555" stroke-width="0.8" />
<text x="446.6" y="166.2" font-size="5.7" fill="#333" text-anchor="middle" font-weight="normal" font-family='"Liberation Sans", sans-serif' >2</text>
<line x1="472.4" y1="159.2" x2="472.4" y2="161.4" stroke="#555" stroke-width="0.8" />
<text x="472.4" y="166.2" font-size="5.7" fill="#333" text-anchor="middle" font-weight="normal" font-family='"Liberation Sans", sans-serif' >3</text>
<line x1="498.2" y1="159.2" x2="498.2" y2="161.4" stroke="#555" stroke-width="0.8" />
<text x="498.2" y="166.2" font-size="5.7" fill="#333" text-anchor="middle" font-weight="normal" font-family='"Liberation Sans", sans-serif' >4</text>
<line x1="524" y1="159.2" x2="524" y2="161.4" stroke="#555" stroke-width="0.8" />
<text x="524" y="166.2" font-size="5.7" fill="#333" text-anchor="middle" font-weight="normal" font-family='"Liberation Sans", sans-serif' >5</text>
<line x1="549.8" y1="159.2" x2="549.8" y2="161.4" stroke="#555" stroke-width="0.8" />
<text x="549.8" y="166.2" font-size="5.7" fill="#333" text-anchor="middle" font-weight="normal" font-family='"Liberation Sans", sans-serif' >6</text>
<line x1="575.6" y1="159.2" x2="575.6" y2="161.4" stroke="#555" stroke-width="0.8" />
<text x="575.6" y="166.2" font-size="5.7" fill="#333" text-anchor="middle" font-weight="normal" font-family='"Liberation Sans", sans-serif' >7</text>
<line x1="601.4" y1="159.2" x2="601.4" y2="161.4" stroke="#555" stroke-width="0.8" />
<text x="601.4" y="166.2" font-size="5.7" fill="#333" text-anchor="middle" font-weight="normal" font-family='"Liberation Sans", sans-serif' >8</text>
<line x1="627.2" y1="159.2" x2="627.2" y2="161.4" stroke="#555" stroke-width="0.8" />
<text x="627.2" y="166.2" font-size="5.7" fill="#333" text-anchor="middle" font-weight="normal" font-family='"Liberation Sans", sans-serif' >9</text>
<line x1="653" y1="159.2" x2="653" y2="161.4" stroke="#555" stroke-width="0.8" />
<text x="653" y="166.2" font-size="5.7" fill="#333" text-anchor="middle" font-weight="normal" font-family='"Liberation Sans", sans-serif' >10</text>
<text x="537" y="174.4" font-size="6.6" fill="#222" text-anchor="middle" font-weight="normal" font-family='"Liberation Sans", sans-serif' textLength="31.8" lengthAdjust="spacingAndGlyphs" >Atom Index</text>
<text x="0" y="0" font-size="6.0" fill="#222" text-anchor="middle" font-weight="normal" font-family='"Liberation Sans", sans-serif' textLength="26.8" lengthAdjust="spacingAndGlyphs" transform="translate(383.7,91) rotate(-90)">RMSF (Å)</text>
<rect x="516.8" y="10.6" width="38.6" height="5.9" fill="#fff" stroke="#ddd" stroke-width="0.5"/>
<rect x="517.0" y="11.6" width="8.0" height="4.3" fill="#a31c4a"/>
<text x="525.4" y="15.6" font-size="5.2" fill="#222" text-anchor="start" font-weight="normal" font-family='"Liberation Sans", sans-serif' textLength="29.5" lengthAdjust="spacingAndGlyphs" >Fit on Protein</text>
<rect x="56.60" y="336.80" width="3.6" height="0.90" fill="#2f6db5"/>
<line x1="58.4" y1="337.7" x2="58.4" y2="340" stroke="#444" stroke-width="0.7" />
<text x="0" y="0" font-size="5.6" fill="#262626" text-anchor="end" font-family='"Liberation Sans", sans-serif' transform="translate(60.60,344.30) rotate(-45)">TYR_9</text>
<rect x="61.16" y="334.47" width="3.6" height="3.23" fill="#bcaed6"/>
<line x1="62.96" y1="337.7" x2="62.96" y2="340" stroke="#444" stroke-width="0.7" />
<text x="0" y="0" font-size="5.6" fill="#262626" text-anchor="end" font-family='"Liberation Sans", sans-serif' transform="translate(65.16,344.30) rotate(-45)">THR_14</text>
<rect x="65.73" y="336.80" width="3.6" height="0.90" fill="#bcaed6"/>
<line x1="67.53" y1="337.7" x2="67.53" y2="340" stroke="#444" stroke-width="0.7" />
<text x="0" y="0" font-size="5.6" fill="#262626" text-anchor="end" font-family='"Liberation Sans", sans-serif' transform="translate(69.73,344.30) rotate(-45)">HIS_21</text>
<rect x="70.30" y="311.37" width="3.6" height="26.33" fill="#bcaed6"/>
<line x1="72.09" y1="337.7" x2="72.09" y2="340" stroke="#444" stroke-width="0.7" />
<text x="0" y="0" font-size="5.6" fill="#262626" text-anchor="end" font-family='"Liberation Sans", sans-serif' transform="translate(74.30,344.30) rotate(-45)">PHE_25</text>
<rect x="74.86" y="315.06" width="3.6" height="22.64" fill="#bcaed6"/>
<line x1="76.66" y1="337.7" x2="76.66" y2="340" stroke="#444" stroke-width="0.7" />
<text x="0" y="0" font-size="5.6" fill="#262626" text-anchor="end" font-family='"Liberation Sans", sans-serif' transform="translate(78.86,344.30) rotate(-45)">ILE_26</text>
<rect x="79.42" y="304.32" width="3.6" height="33.38" fill="#bcaed6"/>
<line x1="81.22" y1="337.7" x2="81.22" y2="340" stroke="#444" stroke-width="0.7" />
<text x="0" y="0" font-size="5.6" fill="#262626" text-anchor="end" font-family='"Liberation Sans", sans-serif' transform="translate(83.42,344.30) rotate(-45)">ASN_29</text>
<rect x="83.99" y="282.26" width="3.6" height="55.44" fill="#bcaed6"/>
<line x1="85.79" y1="337.7" x2="85.79" y2="340" stroke="#444" stroke-width="0.7" />
<text x="0" y="0" font-size="5.6" fill="#262626" text-anchor="end" font-family='"Liberation Sans", sans-serif' transform="translate(87.99,344.30) rotate(-45)">LEU_34</text>
<rect x="88.56" y="209.49" width="3.6" height="128.21" fill="#bcaed6"/>
<rect x="88.56" y="336.80" width="3.6" height="0.9" fill="#4aa04a"/>
<line x1="90.36" y1="337.7" x2="90.36" y2="340" stroke="#444" stroke-width="0.7" />
<text x="0" y="0" font-size="5.6" fill="#262626" text-anchor="end" font-family='"Liberation Sans", sans-serif' transform="translate(92.56,344.30) rotate(-45)">MET_41</text>
<rect x="93.12" y="336.80" width="3.6" height="0.90" fill="#bcaed6"/>
<line x1="94.92" y1="337.7" x2="94.92" y2="340" stroke="#444" stroke-width="0.7" />
<text x="0" y="0" font-size="5.6" fill="#262626" text-anchor="end" font-family='"Liberation Sans", sans-serif' transform="translate(97.12,344.30) rotate(-45)">GLN_45</text>
<rect x="97.69" y="336.80" width="3.6" height="0.90" fill="#bcaed6"/>
<line x1="99.48" y1="337.7" x2="99.48" y2="340" stroke="#444" stroke-width="0.7" />
<text x="0" y="0" font-size="5.6" fill="#262626" text-anchor="end" font-family='"Liberation Sans", sans-serif' transform="translate(101.69,344.30) rotate(-45)">GLY_46</text>
<rect x="102.25" y="335.85" width="3.6" height="1.85" fill="#bcaed6"/>
<line x1="104.05" y1="337.7" x2="104.05" y2="340" stroke="#444" stroke-width="0.7" />
<text x="0" y="0" font-size="5.6" fill="#262626" text-anchor="end" font-family='"Liberation Sans", sans-serif' transform="translate(106.25,344.30) rotate(-45)">ASP_49</text>
<rect x="106.82" y="335.97" width="3.6" height="1.73" fill="#bcaed6"/>
<line x1="108.62" y1="337.7" x2="108.62" y2="340" stroke="#444" stroke-width="0.7" />
<text x="0" y="0" font-size="5.6" fill="#262626" text-anchor="end" font-family='"Liberation Sans", sans-serif' transform="translate(110.82,344.30) rotate(-45)">PRO_54</text>
<rect x="111.38" y="333.54" width="3.6" height="4.16" fill="#bcaed6"/>
<line x1="113.18" y1="337.7" x2="113.18" y2="340" stroke="#444" stroke-width="0.7" />
<text x="0" y="0" font-size="5.6" fill="#262626" text-anchor="end" font-family='"Liberation Sans", sans-serif' transform="translate(115.38,344.30) rotate(-45)">ALA_61</text>
<rect x="115.95" y="324.19" width="3.6" height="13.51" fill="#bcaed6"/>
<line x1="117.75" y1="337.7" x2="117.75" y2="340" stroke="#444" stroke-width="0.7" />
<text x="0" y="0" font-size="5.6" fill="#262626" text-anchor="end" font-family='"Liberation Sans", sans-serif' transform="translate(119.95,344.30) rotate(-45)">GLU_65</text>
<rect x="120.51" y="306.98" width="3.6" height="30.72" fill="#bcaed6"/>
<line x1="122.31" y1="337.7" x2="122.31" y2="340" stroke="#444" stroke-width="0.7" />
<text x="0" y="0" font-size="5.6" fill="#262626" text-anchor="end" font-family='"Liberation Sans", sans-serif' transform="translate(124.51,344.30) rotate(-45)">TRP_66</text>
<rect x="125.08" y="334.70" width="3.6" height="3.00" fill="#bcaed6"/>
<line x1="126.88" y1="337.7" x2="126.88" y2="340" stroke="#444" stroke-width="0.7" />
<text x="0" y="0" font-size="5.6" fill="#262626" text-anchor="end" font-family='"Liberation Sans", sans-serif' transform="translate(129.07,344.30) rotate(-45)">VAL_69</text>
<rect x="129.64" y="333.54" width="3.6" height="4.16" fill="#2f6db5"/>
<line x1="131.44" y1="337.7" x2="131.44" y2="340" stroke="#444" stroke-width="0.7" />
<text x="0" y="0" font-size="5.6" fill="#262626" text-anchor="end" font-family='"Liberation Sans", sans-serif' transform="translate(133.64,344.30) rotate(-45)">LYS_74</text>
<rect x="134.20" y="317.14" width="3.6" height="20.56" fill="#bcaed6"/>
<line x1="136" y1="337.7" x2="136" y2="340" stroke="#444" stroke-width="0.7" />
<text x="0" y="0" font-size="5.6" fill="#262626" text-anchor="end" font-family='"Liberation Sans", sans-serif' transform="translate(138.20,344.30) rotate(-45)">CYS_81</text>
<rect x="138.77" y="332.04" width="3.6" height="5.66" fill="#bcaed6"/>
<line x1="140.57" y1="337.7" x2="140.57" y2="340" stroke="#444" stroke-width="0.7" />
<text x="0" y="0" font-size="5.6" fill="#262626" text-anchor="end" font-family='"Liberation Sans", sans-serif' transform="translate(142.77,344.30) rotate(-45)">SER_85</text>
<rect x="143.34" y="324.19" width="3.6" height="13.51" fill="#bcaed6"/>
<line x1="145.14" y1="337.7" x2="145.14" y2="340" stroke="#444" stroke-width="0.7" />
<text x="0" y="0" font-size="5.6" fill="#262626" text-anchor="end" font-family='"Liberation Sans", sans-serif' transform="translate(147.34,344.30) rotate(-45)">ARG_86</text>
<rect x="147.90" y="336.80" width="3.6" height="0.90" fill="#bcaed6"/>
<line x1="149.7" y1="337.7" x2="149.7" y2="340" stroke="#444" stroke-width="0.7" />
<text x="0" y="0" font-size="5.6" fill="#262626" text-anchor="end" font-family='"Liberation Sans", sans-serif' transform="translate(151.90,344.30) rotate(-45)">TYR_89</text>
<rect x="152.47" y="266.44" width="3.6" height="71.26" fill="#bcaed6"/>
<line x1="154.27" y1="337.7" x2="154.27" y2="340" stroke="#444" stroke-width="0.7" />
<text x="0" y="0" font-size="5.6" fill="#262626" text-anchor="end" font-family='"Liberation Sans", sans-serif' transform="translate(156.47,344.30) rotate(-45)">THR_94</text>
<rect x="157.03" y="334.47" width="3.6" height="3.23" fill="#bcaed6"/>
<line x1="158.83" y1="337.7" x2="158.83" y2="340" stroke="#444" stroke-width="0.7" />
<text x="0" y="0" font-size="5.6" fill="#262626" text-anchor="end" font-family='"Liberation Sans", sans-serif' transform="translate(161.03,344.30) rotate(-45)">HIS_101</text>
<rect x="161.59" y="270.71" width="3.6" height="66.99" fill="#bcaed6"/>
<line x1="163.4" y1="337.7" x2="163.4" y2="340" stroke="#444" stroke-width="0.7" />
<text x="0" y="0" font-size="5.6" fill="#262626" text-anchor="end" font-family='"Liberation Sans", sans-serif' transform="translate(165.59,344.30) rotate(-45)">PHE_105</text>
<rect x="166.16" y="336.80" width="3.6" height="0.90" fill="#bcaed6"/>
<line x1="167.96" y1="337.7" x2="167.96" y2="340" stroke="#444" stroke-width="0.7" />
<text x="0" y="0" font-size="5.6" fill="#262626" text-anchor="end" font-family='"Liberation Sans", sans-serif' transform="translate(170.16,344.30) rotate(-45)">ILE_106</text>
<rect x="170.72" y="336.80" width="3.6" height="0.90" fill="#bcaed6"/>
<line x1="172.53" y1="337.7" x2="172.53" y2="340" stroke="#444" stroke-width="0.7" />
<text x="0" y="0" font-size="5.6" fill="#262626" text-anchor="end" font-family='"Liberation Sans", sans-serif' transform="translate(174.72,344.30) rotate(-45)">ASN_109</text>
<rect x="175.29" y="336.20" width="3.6" height="1.50" fill="#2f6db5"/>
<rect x="175.29" y="336.80" width="3.6" height="0.9" fill="#4aa04a"/>
<line x1="177.09" y1="337.7" x2="177.09" y2="340" stroke="#444" stroke-width="0.7" />
<text x="0" y="0" font-size="5.6" fill="#262626" text-anchor="end" font-family='"Liberation Sans", sans-serif' transform="translate(179.29,344.30) rotate(-45)">LEU_114</text>
<rect x="179.85" y="325.00" width="3.6" height="12.71" fill="#bcaed6"/>
<line x1="181.66" y1="337.7" x2="181.66" y2="340" stroke="#444" stroke-width="0.7" />
<text x="0" y="0" font-size="5.6" fill="#262626" text-anchor="end" font-family='"Liberation Sans", sans-serif' transform="translate(183.85,344.30) rotate(-45)">MET_121</text>
<rect x="184.42" y="333.54" width="3.6" height="4.16" fill="#bcaed6"/>
<line x1="186.22" y1="337.7" x2="186.22" y2="340" stroke="#444" stroke-width="0.7" />
<text x="0" y="0" font-size="5.6" fill="#262626" text-anchor="end" font-family='"Liberation Sans", sans-serif' transform="translate(188.42,344.30) rotate(-45)">GLN_125</text>
<rect x="188.99" y="253.38" width="3.6" height="84.31" fill="#bcaed6"/>
<line x1="190.79" y1="337.7" x2="190.79" y2="340" stroke="#444" stroke-width="0.7" />
<text x="0" y="0" font-size="5.6" fill="#262626" text-anchor="end" font-family='"Liberation Sans", sans-serif' transform="translate(192.99,344.30) rotate(-45)">GLY_126</text>
<rect x="193.55" y="303.05" width="3.6" height="34.65" fill="#bcaed6"/>
<line x1="195.35" y1="337.7" x2="195.35" y2="340" stroke="#444" stroke-width="0.7" />
<text x="0" y="0" font-size="5.6" fill="#262626" text-anchor="end" font-family='"Liberation Sans", sans-serif' transform="translate(197.55,344.30) rotate(-45)">ASP_129</text>
<rect x="198.12" y="288.03" width="3.6" height="49.66" fill="#bcaed6"/>
<line x1="199.92" y1="337.7" x2="199.92" y2="340" stroke="#444" stroke-width="0.7" />
<text x="0" y="0" font-size="5.6" fill="#262626" text-anchor="end" font-family='"Liberation Sans", sans-serif' transform="translate(202.12,344.30) rotate(-45)">PRO_134</text>
<rect x="202.68" y="336.80" width="3.6" height="0.90" fill="#bcaed6"/>
<line x1="204.48" y1="337.7" x2="204.48" y2="340" stroke="#444" stroke-width="0.7" />
<text x="0" y="0" font-size="5.6" fill="#262626" text-anchor="end" font-family='"Liberation Sans", sans-serif' transform="translate(206.68,344.30) rotate(-45)">ALA_141</text>
<rect x="207.25" y="332.04" width="3.6" height="5.66" fill="#bcaed6"/>
<line x1="209.05" y1="337.7" x2="209.05" y2="340" stroke="#444" stroke-width="0.7" />
<text x="0" y="0" font-size="5.6" fill="#262626" text-anchor="end" font-family='"Liberation Sans", sans-serif' transform="translate(211.25,344.30) rotate(-45)">GLU_145</text>
<rect x="211.81" y="336.80" width="3.6" height="0.90" fill="#bcaed6"/>
<line x1="213.61" y1="337.7" x2="213.61" y2="340" stroke="#444" stroke-width="0.7" />
<text x="0" y="0" font-size="5.6" fill="#262626" text-anchor="end" font-family='"Liberation Sans", sans-serif' transform="translate(215.81,344.30) rotate(-45)">TRP_146</text>
<rect x="216.38" y="332.04" width="3.6" height="5.66" fill="#bcaed6"/>
<line x1="218.18" y1="337.7" x2="218.18" y2="340" stroke="#444" stroke-width="0.7" />
<text x="0" y="0" font-size="5.6" fill="#262626" text-anchor="end" font-family='"Liberation Sans", sans-serif' transform="translate(220.38,344.30) rotate(-45)">VAL_149</text>
<rect x="220.94" y="334.58" width="3.6" height="3.12" fill="#bcaed6"/>
<line x1="222.74" y1="337.7" x2="222.74" y2="340" stroke="#444" stroke-width="0.7" />
<text x="0" y="0" font-size="5.6" fill="#262626" text-anchor="end" font-family='"Liberation Sans", sans-serif' transform="translate(224.94,344.30) rotate(-45)">LYS_154</text>
<rect x="225.50" y="335.97" width="3.6" height="1.73" fill="#bcaed6"/>
<line x1="227.31" y1="337.7" x2="227.31" y2="340" stroke="#444" stroke-width="0.7" />
<text x="0" y="0" font-size="5.6" fill="#262626" text-anchor="end" font-family='"Liberation Sans", sans-serif' transform="translate(229.50,344.30) rotate(-45)">CYS_161</text>
<rect x="230.07" y="318.30" width="3.6" height="19.40" fill="#bcaed6"/>
<line x1="231.87" y1="337.7" x2="231.87" y2="340" stroke="#444" stroke-width="0.7" />
<text x="0" y="0" font-size="5.6" fill="#262626" text-anchor="end" font-family='"Liberation Sans", sans-serif' transform="translate(234.07,344.30) rotate(-45)">SER_165</text>
<rect x="234.64" y="336.80" width="3.6" height="0.90" fill="#bcaed6"/>
<line x1="236.44" y1="337.7" x2="236.44" y2="340" stroke="#444" stroke-width="0.7" />
<text x="0" y="0" font-size="5.6" fill="#262626" text-anchor="end" font-family='"Liberation Sans", sans-serif' transform="translate(238.64,344.30) rotate(-45)">ARG_166</text>
<rect x="239.20" y="336.80" width="3.6" height="0.90" fill="#bcaed6"/>
<line x1="241" y1="337.7" x2="241" y2="340" stroke="#444" stroke-width="0.7" />
<text x="0" y="0" font-size="5.6" fill="#262626" text-anchor="end" font-family='"Liberation Sans", sans-serif' transform="translate(243.20,344.30) rotate(-45)">TYR_169</text>
<rect x="243.77" y="335.85" width="3.6" height="1.85" fill="#bcaed6"/>
<line x1="245.57" y1="337.7" x2="245.57" y2="340" stroke="#444" stroke-width="0.7" />
<text x="0" y="0" font-size="5.6" fill="#262626" text-anchor="end" font-family='"Liberation Sans", sans-serif' transform="translate(247.77,344.30) rotate(-45)">THR_174</text>
<rect x="248.33" y="315.18" width="3.6" height="22.52" fill="#bcaed6"/>
<line x1="250.13" y1="337.7" x2="250.13" y2="340" stroke="#444" stroke-width="0.7" />
<text x="0" y="0" font-size="5.6" fill="#262626" text-anchor="end" font-family='"Liberation Sans", sans-serif' transform="translate(252.33,344.30) rotate(-45)">HIS_181</text>
<rect x="252.90" y="295.31" width="3.6" height="42.39" fill="#bcaed6"/>
<line x1="254.7" y1="337.7" x2="254.7" y2="340" stroke="#444" stroke-width="0.7" />
<text x="0" y="0" font-size="5.6" fill="#262626" text-anchor="end" font-family='"Liberation Sans", sans-serif' transform="translate(256.90,344.30) rotate(-45)">PHE_185</text>
<rect x="257.46" y="336.55" width="3.6" height="1.16" fill="#2f6db5"/>
<line x1="259.26" y1="337.7" x2="259.26" y2="340" stroke="#444" stroke-width="0.7" />
<text x="0" y="0" font-size="5.6" fill="#262626" text-anchor="end" font-family='"Liberation Sans", sans-serif' transform="translate(261.46,344.30) rotate(-45)">ILE_186</text>
<rect x="262.02" y="336.78" width="3.6" height="0.92" fill="#4aa04a"/>
<line x1="263.82" y1="337.7" x2="263.82" y2="340" stroke="#444" stroke-width="0.7" />
<text x="0" y="0" font-size="5.6" fill="#262626" text-anchor="end" font-family='"Liberation Sans", sans-serif' transform="translate(266.02,344.30) rotate(-45)">ASN_189</text>
<rect x="266.59" y="324.19" width="3.6" height="13.51" fill="#bcaed6"/>
<line x1="268.39" y1="337.7" x2="268.39" y2="340" stroke="#444" stroke-width="0.7" />
<text x="0" y="0" font-size="5.6" fill="#262626" text-anchor="end" font-family='"Liberation Sans", sans-serif' transform="translate(270.59,344.30) rotate(-45)">LEU_194</text>
<rect x="271.15" y="319.68" width="3.6" height="18.02" fill="#bcaed6"/>
<line x1="272.95" y1="337.7" x2="272.95" y2="340" stroke="#444" stroke-width="0.7" />
<text x="0" y="0" font-size="5.6" fill="#262626" text-anchor="end" font-family='"Liberation Sans", sans-serif' transform="translate(275.15,344.30) rotate(-45)">MET_201</text>
<rect x="275.72" y="333.54" width="3.6" height="4.16" fill="#bcaed6"/>
<line x1="277.52" y1="337.7" x2="277.52" y2="340" stroke="#444" stroke-width="0.7" />
<text x="0" y="0" font-size="5.6" fill="#262626" text-anchor="end" font-family='"Liberation Sans", sans-serif' transform="translate(279.72,344.30) rotate(-45)">GLN_205</text>
<rect x="280.29" y="336.80" width="3.6" height="0.90" fill="#bcaed6"/>
<line x1="282.09" y1="337.7" x2="282.09" y2="340" stroke="#444" stroke-width="0.7" />
<text x="0" y="0" font-size="5.6" fill="#262626" text-anchor="end" font-family='"Liberation Sans", sans-serif' transform="translate(284.29,344.30) rotate(-45)">GLY_206</text>
<rect x="284.85" y="333.54" width="3.6" height="4.16" fill="#bcaed6"/>
<line x1="286.65" y1="337.7" x2="286.65" y2="340" stroke="#444" stroke-width="0.7" />
<text x="0" y="0" font-size="5.6" fill="#262626" text-anchor="end" font-family='"Liberation Sans", sans-serif' transform="translate(288.85,344.30) rotate(-45)">ASP_209</text>
<rect x="289.42" y="336.80" width="3.6" height="0.90" fill="#bcaed6"/>
<line x1="291.22" y1="337.7" x2="291.22" y2="340" stroke="#444" stroke-width="0.7" />
<text x="0" y="0" font-size="5.6" fill="#262626" text-anchor="end" font-family='"Liberation Sans", sans-serif' transform="translate(293.42,344.30) rotate(-45)">PRO_214</text>
<rect x="293.98" y="334.58" width="3.6" height="3.12" fill="#bcaed6"/>
<line x1="295.78" y1="337.7" x2="295.78" y2="340" stroke="#444" stroke-width="0.7" />
<text x="0" y="0" font-size="5.6" fill="#262626" text-anchor="end" font-family='"Liberation Sans", sans-serif' transform="translate(297.98,344.30) rotate(-45)">ALA_221</text>
<rect x="298.55" y="332.04" width="3.6" height="5.66" fill="#bcaed6"/>
<line x1="300.35" y1="337.7" x2="300.35" y2="340" stroke="#444" stroke-width="0.7" />
<text x="0" y="0" font-size="5.6" fill="#262626" text-anchor="end" font-family='"Liberation Sans", sans-serif' transform="translate(302.55,344.30) rotate(-45)">GLU_225</text>
<rect x="303.11" y="336.80" width="3.6" height="0.90" fill="#bcaed6"/>
<line x1="304.91" y1="337.7" x2="304.91" y2="340" stroke="#444" stroke-width="0.7" />
<text x="0" y="0" font-size="5.6" fill="#262626" text-anchor="end" font-family='"Liberation Sans", sans-serif' transform="translate(307.11,344.30) rotate(-45)">TRP_226</text>
<rect x="307.68" y="326.73" width="3.6" height="10.97" fill="#bcaed6"/>
<line x1="309.48" y1="337.7" x2="309.48" y2="340" stroke="#444" stroke-width="0.7" />
<text x="0" y="0" font-size="5.6" fill="#262626" text-anchor="end" font-family='"Liberation Sans", sans-serif' transform="translate(311.68,344.30) rotate(-45)">VAL_229</text>
<rect x="312.24" y="325.34" width="3.6" height="12.36" fill="#bcaed6"/>
<line x1="314.04" y1="337.7" x2="314.04" y2="340" stroke="#444" stroke-width="0.7" />
<text x="0" y="0" font-size="5.6" fill="#262626" text-anchor="end" font-family='"Liberation Sans", sans-serif' transform="translate(316.24,344.30) rotate(-45)">LYS_234</text>
<rect x="316.81" y="324.19" width="3.6" height="13.51" fill="#bcaed6"/>
<line x1="318.61" y1="337.7" x2="318.61" y2="340" stroke="#444" stroke-width="0.7" />
<text x="0" y="0" font-size="5.6" fill="#262626" text-anchor="end" font-family='"Liberation Sans", sans-serif' transform="translate(320.81,344.30) rotate(-45)">CYS_241</text>
<rect x="321.37" y="328.00" width="3.6" height="9.70" fill="#bcaed6"/>
<line x1="323.17" y1="337.7" x2="323.17" y2="340" stroke="#444" stroke-width="0.7" />
<text x="0" y="0" font-size="5.6" fill="#262626" text-anchor="end" font-family='"Liberation Sans", sans-serif' transform="translate(325.37,344.30) rotate(-45)">SER_245</text>
<rect x="325.94" y="317.49" width="3.6" height="20.21" fill="#bcaed6"/>
<line x1="327.74" y1="337.7" x2="327.74" y2="340" stroke="#444" stroke-width="0.7" />
<text x="0" y="0" font-size="5.6" fill="#262626" text-anchor="end" font-family='"Liberation Sans", sans-serif' transform="translate(329.94,344.30) rotate(-45)">ARG_246</text>
<rect x="330.50" y="336.20" width="3.6" height="1.50" fill="#2f6db5"/>
<line x1="332.3" y1="337.7" x2="332.3" y2="340" stroke="#444" stroke-width="0.7" />
<text x="0" y="0" font-size="5.6" fill="#262626" text-anchor="end" font-family='"Liberation Sans", sans-serif' transform="translate(334.50,344.30) rotate(-45)">TYR_249</text>
<rect x="335.06" y="336.80" width="3.6" height="0.90" fill="#bcaed6"/>
<line x1="336.87" y1="337.7" x2="336.87" y2="340" stroke="#444" stroke-width="0.7" />
<text x="0" y="0" font-size="5.6" fill="#262626" text-anchor="end" font-family='"Liberation Sans", sans-serif' transform="translate(339.06,344.30) rotate(-45)">THR_254</text>
<rect x="339.63" y="309.29" width="3.6" height="28.41" fill="#bcaed6"/>
<rect x="339.63" y="309.29" width="3.6" height="1.3" fill="#2f6db5"/>
<line x1="341.43" y1="337.7" x2="341.43" y2="340" stroke="#444" stroke-width="0.7" />
<text x="0" y="0" font-size="5.6" fill="#262626" text-anchor="end" font-family='"Liberation Sans", sans-serif' transform="translate(343.63,344.30) rotate(-45)">HIS_261</text>
<rect x="344.19" y="324.30" width="3.6" height="13.40" fill="#bcaed6"/>
<rect x="344.19" y="324.30" width="3.6" height="1.3" fill="#2f6db5"/>
<line x1="346" y1="337.7" x2="346" y2="340" stroke="#444" stroke-width="0.7" />
<text x="0" y="0" font-size="5.6" fill="#262626" text-anchor="end" font-family='"Liberation Sans", sans-serif' transform="translate(348.19,344.30) rotate(-45)">PHE_265</text>
<rect x="348.76" y="299.01" width="3.6" height="38.69" fill="#bcaed6"/>
<line x1="350.56" y1="337.7" x2="350.56" y2="340" stroke="#444" stroke-width="0.7" />
<text x="0" y="0" font-size="5.6" fill="#262626" text-anchor="end" font-family='"Liberation Sans", sans-serif' transform="translate(352.76,344.30) rotate(-45)">ILE_266</text>
<rect x="353.32" y="336.80" width="3.6" height="0.90" fill="#bcaed6"/>
<line x1="355.12" y1="337.7" x2="355.12" y2="340" stroke="#444" stroke-width="0.7" />
<text x="0" y="0" font-size="5.6" fill="#262626" text-anchor="end" font-family='"Liberation Sans", sans-serif' transform="translate(357.32,344.30) rotate(-45)">ASN_269</text>
<rect x="357.89" y="334.47" width="3.6" height="3.23" fill="#bcaed6"/>
<line x1="359.69" y1="337.7" x2="359.69" y2="340" stroke="#444" stroke-width="0.7" />
<text x="0" y="0" font-size="5.6" fill="#262626" text-anchor="end" font-family='"Liberation Sans", sans-serif' transform="translate(361.89,344.30) rotate(-45)">LEU_274</text>
<path d="M55.5,337.7 L55.5,209.5 L366.0,209.5 L366.0,337.7 Z" fill="none" stroke="#666" stroke-width="1"/>
<line x1="53.3" y1="337.7" x2="55.5" y2="337.7" stroke="#444" stroke-width="0.8" />
<text x="51.8" y="340" font-size="6.4" fill="#262626" text-anchor="end" font-weight="normal" font-family='"Liberation Sans", sans-serif' textLength="12" lengthAdjust="spacingAndGlyphs" >0.00</text>
<line x1="53.3" y1="314.6" x2="55.5" y2="314.6" stroke="#444" stroke-width="0.8" />
<text x="51.8" y="316.9" font-size="6.4" fill="#262626" text-anchor="end" font-weight="normal" font-family='"Liberation Sans", sans-serif' textLength="12" lengthAdjust="spacingAndGlyphs" >0.02</text>
<line x1="53.3" y1="291.5" x2="55.5" y2="291.5" stroke="#444" stroke-width="0.8" />
<text x="51.8" y="293.8" font-size="6.4" fill="#262626" text-anchor="end" font-weight="normal" font-family='"Liberation Sans", sans-serif' textLength="12" lengthAdjust="spacingAndGlyphs" >0.04</text>
<line x1="53.3" y1="268.4" x2="55.5" y2="268.4" stroke="#444" stroke-width="0.8" />
<text x="51.8" y="270.7" font-size="6.4" fill="#262626" text-anchor="end" font-weight="normal" font-family='"Liberation Sans", sans-serif' textLength="12" lengthAdjust="spacingAndGlyphs" >0.06</text>
<line x1="53.3" y1="245.3" x2="55.5" y2="245.3" stroke="#444" stroke-width="0.8" />
<text x="51.8" y="247.6" font-size="6.4" fill="#262626" text-anchor="end" font-weight="normal" font-family='"Liberation Sans", sans-serif' textLength="12" lengthAdjust="spacingAndGlyphs" >0.08</text>
<line x1="53.3" y1="222.2" x2="55.5" y2="222.2" stroke="#444" stroke-width="0.8" />
<text x="51.8" y="224.5" font-size="6.4" fill="#262626" text-anchor="end" font-weight="normal" font-family='"Liberation Sans", sans-serif' textLength="12" lengthAdjust="spacingAndGlyphs" >0.10</text>
<text x="0" y="0" font-size="6.7" fill="#2a2a2a" text-anchor="middle" font-weight="normal" font-family='"Liberation Sans", sans-serif' textLength="66.4" lengthAdjust="spacingAndGlyphs" transform="translate(36.6,273.9) rotate(-90)">Interactions Fraction</text>
<defs><filter id="blur" x="-50%" y="-50%" width="200%" height="200%"><feGaussianBlur stdDeviation="2.6"/></filter></defs>
<g filter="url(#blur)" fill="#d8d8d8"><circle cx="449.9" cy="246.7" r="7.3"/><circle cx="478.5" cy="266" r="7.3"/><circle cx="509.5" cy="282.9" r="7.3"/><circle cx="539.5" cy="265.5" r="7.3"/><circle cx="569.7" cy="283.2" r="7.3"/><circle cx="599.6" cy="265.7" r="7.3"/><circle cx="630.1" cy="283.2" r="7.3"/><circle cx="630.1" cy="318.1" r="7.3"/><circle cx="599.6" cy="335.5" r="7.3"/><circle cx="569.7" cy="318.1" r="7.3"/></g>
<path d="M434.50,223.80 C437.13,223.17 441.08,222.45 446.00,222.60 C450.92,222.75 458.08,223.67 464.00,224.70 C469.92,225.73 475.60,227.38 481.50,228.80 C487.40,230.22 493.43,231.87 499.40,233.20 C505.37,234.53 511.88,235.73 517.30,236.80 C522.72,237.87 527.48,238.82 531.90,239.60 C536.32,240.38 539.82,241.18 543.80,241.50 C547.78,241.82 551.82,241.70 555.80,241.50 C559.78,241.30 563.73,240.58 567.70,240.30 C571.67,240.02 575.63,239.80 579.60,239.80 C583.57,239.80 587.52,239.93 591.50,240.30 C595.48,240.67 599.52,241.13 603.50,242.00 C607.48,242.87 611.43,244.00 615.40,245.50 C619.37,247.00 623.33,248.70 627.30,251.00 C631.27,253.30 635.62,256.32 639.20,259.30 C642.78,262.28 646.13,265.52 648.80,268.90 C651.47,272.28 653.52,275.83 655.20,279.60 C656.88,283.37 658.20,287.92 658.90,291.50 C659.60,295.08 659.62,297.12 659.40,301.10 C659.18,305.08 658.58,311.03 657.60,315.40 C656.62,319.77 655.37,323.33 653.50,327.30 C651.63,331.27 649.18,335.42 646.40,339.20 C643.62,342.98 640.38,347.02 636.80,350.00 C633.22,352.98 629.27,355.32 624.90,357.10 C620.53,358.88 614.97,360.10 610.60,360.70 C606.23,361.30 602.67,361.18 598.70,360.70 C594.73,360.22 590.78,359.20 586.80,357.80 C582.82,356.40 578.78,354.60 574.80,352.30 C570.82,350.00 566.87,346.97 562.90,344.00 C558.93,341.03 554.97,337.68 551.00,334.50 C547.03,331.32 543.07,327.77 539.10,324.90 C535.13,322.03 530.83,319.47 527.20,317.30 C523.57,315.13 521.93,314.58 517.30,311.90 C512.67,309.22 505.37,304.77 499.40,301.20 C493.43,297.63 487.47,293.93 481.50,290.50 C475.53,287.07 469.55,283.88 463.60,280.60 C457.65,277.32 451.15,273.77 445.80,270.80 C440.45,267.83 434.87,265.00 431.50,262.80 C428.13,260.60 427.00,259.55 425.60,257.60 C424.20,255.65 423.28,253.73 423.10,251.10 C422.92,248.47 423.78,244.88 424.50,241.80 C425.22,238.72 426.45,235.17 427.40,232.60 C428.35,230.03 429.02,227.87 430.20,226.40 C431.38,224.93 431.87,224.43 434.50,223.80 Z" fill="none" stroke="#000" stroke-width="4.9"/>
<line x1="454.6" y1="251.3" x2="503.6" y2="279.1" stroke="#111" stroke-width="1.45" stroke-linecap="butt"/>
<line x1="456.4" y1="248.4" x2="477.6" y2="260.5" stroke="#111" stroke-width="1.45" stroke-linecap="butt"/>
<line x1="484.4" y1="264.8" x2="504.5" y2="275.9" stroke="#111" stroke-width="1.45" stroke-linecap="butt"/>
<line x1="516.1" y1="278.6" x2="539.5" y2="265.5" stroke="#111" stroke-width="1.45" stroke-linecap="butt"/>
<line x1="539.5" y1="265.5" x2="569.7" y2="283.2" stroke="#111" stroke-width="1.45" stroke-linecap="butt"/>
<polygon points="569.7,283.2 599.6,265.7 630.1,283.2 630.1,318.1 599.6,335.5 569.7,318.1" fill="none" stroke="#111" stroke-width="1.45" stroke-linejoin="miter"/>
<line x1="573" y1="286.8" x2="573" y2="314.4" stroke="#111" stroke-width="1.45" stroke-linecap="butt"/>
<line x1="601.6" y1="271.1" x2="625.8" y2="284.6" stroke="#111" stroke-width="1.45" stroke-linecap="butt"/>
<line x1="625.8" y1="317.2" x2="601.6" y2="331" stroke="#111" stroke-width="1.45" stroke-linecap="butt"/>
<text x="449.9" y="251.1" font-size="12" fill="#d6c418" text-anchor="middle" font-weight="normal" font-family='"Liberation Sans", sans-serif' >S</text>
<text x="509.5" y="287.1" font-size="11.6" fill="#2222cc" text-anchor="middle" font-weight="normal" font-family='"Liberation Sans", sans-serif' >N</text>
<polyline points="72.10,428.15 72.79,456.10 73.49,422.07 74.18,466.79 74.87,439.46 75.56,437.18 76.26,427.65 76.95,438.37 77.64,480.71 78.33,445.05 79.03,429.08 79.72,451.50 80.41,434.69 81.11,428.95 81.80,489.90 82.49,465.58 83.18,428.25 83.88,455.73 84.57,423.42 85.26,451.52 85.96,421.30 86.65,463.40 87.34,486.49 88.03,457.79 88.73,436.11 89.42,430.03 90.11,421.61 90.80,472.05 91.50,433.13 92.19,452.89 92.88,438.77 93.58,443.89 94.27,439.94 94.96,472.05 95.65,434.11 96.35,460.64 97.04,434.00 97.73,441.89 98.42,438.92 99.12,439.68 99.81,425.73 100.50,467.32 101.20,499.09 101.89,444.37 102.58,439.84 103.27,483.34 103.97,421.82 104.66,440.88 105.35,422.31 106.05,435.03 106.74,478.74 107.43,456.38 108.12,437.95 108.82,456.07 109.51,423.64 110.20,461.67 110.89,438.27 111.59,443.73 112.28,422.53 112.97,437.56 113.67,429.63 114.36,449.52 115.05,436.63 115.74,452.83 116.44,426.89 117.13,437.68 117.82,439.08 118.52,432.30 119.21,432.28 119.90,444.07 120.59,424.28 121.29,482.02 121.98,438.95 122.67,439.54 123.36,430.61 124.06,465.70 124.75,426.08 125.44,478.74 126.14,425.01 126.83,447.21 127.52,493.84 128.21,463.32 128.91,431.38 129.60,427.70 130.29,459.70 130.98,446.15 131.68,426.12 132.37,450.03 133.06,432.32 133.76,448.34 134.45,421.19 135.14,430.95 135.83,430.50 136.53,454.01 137.22,434.82 137.91,455.05 138.61,433.13 139.30,456.39 139.99,426.78 140.68,456.61 141.38,433.09 142.07,466.27 142.76,430.76 143.45,457.60 144.15,434.41 144.84,430.62 145.53,428.95 146.23,444.99 146.92,435.24 147.61,460.89 148.30,424.46 149.00,456.06 149.69,470.21 150.38,456.92 151.07,424.24 151.77,439.16 152.46,423.45 153.15,453.48 153.85,421.80 154.54,459.94 155.23,436.84 155.92,454.04 156.62,430.92 157.31,457.19 158.00,470.86 158.70,440.39 159.39,428.95 160.08,461.50 160.77,428.13 161.47,458.38 162.16,426.29 162.85,452.61 163.54,431.61 164.24,464.42 164.93,426.95 165.62,466.98 166.32,431.03 167.01,470.21 167.70,437.47 168.39,452.19 169.09,436.33 169.78,446.60 170.47,473.36 171.17,459.06 171.86,435.48 172.55,440.00 173.24,466.27 173.94,447.69 174.63,437.82 175.32,462.18 176.01,439.32 176.71,465.48 177.40,429.63 178.09,444.32 178.79,421.76 179.48,461.53 180.17,424.53 180.86,476.77 181.56,437.30 182.25,459.44 182.94,421.78 183.63,431.22 184.33,433.32 185.02,467.57 185.71,482.55 186.41,458.70 187.10,437.33 187.79,454.71 188.48,432.85 189.18,451.31 189.87,434.46 190.56,464.96 191.26,421.71 191.95,431.40 192.64,435.06 193.33,432.84 194.03,432.10 194.72,436.38 195.41,430.65 196.10,478.74 196.80,437.69 197.49,461.18 198.18,434.43 198.88,455.64 199.57,439.76 200.26,464.17 200.95,422.20 201.65,464.03 202.34,434.91 203.03,436.29 203.72,434.43 204.42,460.73 205.11,427.73 205.80,456.84 206.50,464.96 207.19,463.24 207.88,429.85 208.57,449.92 209.27,429.92 209.96,465.48 210.65,425.82 211.35,467.05 212.04,435.20 212.73,437.71 213.42,423.10 214.12,475.98 214.81,425.19 215.50,444.43 216.19,426.53 216.89,460.62 217.58,467.58 218.27,448.05 218.97,423.79 219.66,449.93 220.35,424.21 221.04,471.52 221.74,426.78 222.43,450.12 223.12,425.14 223.82,437.95 224.51,476.77 225.20,460.39 225.89,433.71 226.59,444.23 227.28,424.55 227.97,469.55 228.66,424.40 229.36,458.00 230.05,439.52 230.74,453.45 231.44,421.00 232.13,464.17 232.82,423.98 233.51,443.05 234.21,421.88 234.90,465.64 235.59,434.44 236.28,474.15 236.98,428.38 237.67,452.59 238.36,428.16 239.06,466.79 239.75,432.79 240.44,454.63 241.13,429.06 241.83,461.67 242.52,437.45 243.21,449.57 243.91,428.58 244.60,437.28 245.29,432.88 245.98,465.48 246.68,437.13 247.37,460.28 248.06,422.67 248.75,458.61 249.45,464.96 250.14,463.91 250.83,425.72 251.53,465.65 252.22,435.54 252.91,463.64 253.60,436.59 254.30,458.12 254.99,438.39 255.68,466.26 256.38,437.63 257.07,483.34 257.76,423.31 258.45,449.40 259.15,485.96 259.84,441.48 260.53,438.99 261.22,437.01 261.92,427.04 262.61,453.48 263.30,421.49 264.00,455.73 264.69,437.35 265.38,474.67 266.07,435.53 266.77,443.68 267.46,492.53 268.15,453.08 268.84,424.19 269.54,455.96 270.23,431.76 270.92,460.11 271.62,428.73 272.31,469.55 273.00,432.48 273.69,455.11 274.39,436.15 275.08,476.77 275.77,430.85 276.47,467.57 277.16,469.55 277.85,458.63 278.54,431.85 279.24,453.80 279.93,437.06 280.62,448.39 281.31,432.67 282.01,465.38 282.70,461.02 283.39,452.58 284.09,434.54 284.78,446.27 285.47,477.30 286.16,434.68 286.86,422.15 287.55,457.85 288.24,431.03 288.93,465.48 289.63,427.28 290.32,442.48 291.01,426.12 291.71,451.80 292.40,439.53 293.09,454.22 293.78,432.37 294.48,434.75 295.17,434.07 295.86,450.19 296.56,475.46 297.25,465.22 297.94,435.43 298.63,454.00 299.33,427.71 300.02,436.55 300.71,439.89 301.40,440.42 302.10,432.20 302.79,444.96 303.48,466.79 304.18,462.53 304.87,438.22 305.56,438.06 306.25,430.66 306.95,486.49 307.64,435.37 308.33,447.94 309.02,438.86 309.72,447.74 310.41,434.18 311.10,480.05 311.80,421.51 312.49,445.75 313.18,482.55 313.87,466.36 314.57,434.03 315.26,445.09 315.95,422.47 316.65,455.21 317.34,435.93 318.03,445.14 318.72,430.75 319.42,482.55 320.11,428.11 320.80,454.39 321.49,434.15 322.19,439.49 322.88,485.18 323.57,449.62 324.27,438.34 324.96,455.75 325.65,434.05 326.34,470.86 327.04,435.35 327.73,447.32 328.42,429.02 329.12,476.77 329.81,426.67 330.50,451.83 331.19,434.56 331.89,472.05 332.58,432.00 333.27,440.95 333.96,429.42 334.66,485.18 335.35,425.54 336.04,461.19 336.74,474.67 337.43,453.79 338.12,426.15 338.81,463.71 339.51,474.67 340.20,453.20 340.89,438.75 341.58,486.49 342.28,427.14 342.97,454.51 343.66,425.47 344.36,472.05 345.05,439.04 345.74,448.73 346.43,423.64 347.13,487.28 347.82,435.61 348.51,448.63 349.21,433.72 349.90,477.30 350.59,424.26 351.28,466.20 351.98,429.91 352.67,441.79 353.36,489.25 354.05,428.53 354.75,437.76 355.44,475.98 356.13,431.23 356.83,447.07 357.52,425.40 358.21,432.32 358.90,421.55 359.60,466.09 360.29,424.51 360.98,454.73 361.67,421.39 362.37,444.40 363.06,430.83 363.75,470.86 364.45,435.90 365.14,486.49 365.83,429.30 366.52,440.97 367.22,435.41 367.91,493.84 368.60,421.30 369.30,455.31 369.99,428.24 370.68,452.95 371.37,485.96 372.07,455.02 372.76,436.78 373.45,441.63 374.14,422.87 374.84,440.07 375.53,433.84 376.22,455.11 376.92,428.15 377.61,462.14 378.30,439.82 378.99,459.11 379.69,436.49 380.38,480.71 381.07,439.49 381.77,448.22 382.46,430.94 383.15,461.82 383.84,421.30 384.54,478.09 385.23,426.82 385.92,459.83 386.61,424.80 387.31,444.07 388.00,427.07 388.69,463.48 389.39,438.53 390.08,458.92 390.77,428.96 391.46,457.26 392.16,434.17 392.85,436.04 393.54,467.58 394.23,440.93 394.93,427.25 395.62,427.05 396.31,426.92 397.01,456.91 397.70,480.71 398.39,445.59 399.08,422.95 399.78,475.46 400.47,429.65 401.16,455.71 401.86,432.58 402.55,442.90 403.24,464.96 403.93,431.15 404.63,432.65 405.32,442.20 406.01,429.47 406.70,462.18 407.40,490.56 408.09,449.75 408.78,434.91 409.48,454.62 410.17,436.82 410.86,456.51 411.55,435.73 412.25,444.62 412.94,424.20 413.63,457.07 414.33,432.07 415.02,445.35 415.71,422.78 416.40,450.23 417.10,428.48 417.79,481.37 418.48,439.43 419.17,444.68 419.87,428.52 420.56,452.02 421.25,428.69 421.95,457.61 422.64,426.13 423.33,456.29 424.02,424.12 424.72,435.41 425.41,423.82 426.10,454.20 426.79,435.65 427.49,455.44 428.18,430.93 428.87,483.86 429.57,437.03 430.26,452.77 430.95,428.29 431.64,440.83 432.34,425.99 433.03,455.97 433.72,483.34 434.42,426.19 435.11,428.11 435.80,438.52 436.49,438.05 437.19,482.55 437.88,432.88 438.57,442.36 439.26,425.86 439.96,447.82 440.65,429.66 441.34,457.60 442.04,428.64 442.73,442.30 443.42,430.57 444.11,426.36 444.81,438.63 445.50,457.16 446.19,434.37 446.88,446.33 447.58,473.36 448.27,454.32 448.96,432.73 449.66,445.94 450.35,476.77 451.04,459.27 451.73,434.37 452.43,474.67 453.12,430.12 453.81,447.48 454.51,435.48 455.20,466.52 455.89,434.85 456.58,478.74 457.28,421.26 457.97,462.00 458.66,422.23 459.35,461.67 460.05,424.57 460.74,440.68 461.43,433.13 462.13,486.49 462.82,431.28 463.51,445.59 464.20,439.00 464.90,490.56 465.59,431.58 466.28,454.08 466.98,434.69 467.67,430.08 468.36,430.34 469.05,478.74 469.75,425.19 470.44,444.07 471.13,422.83 471.82,458.40 472.52,439.32 473.21,466.79 473.90,432.14 474.60,455.66 475.29,422.58 475.98,436.09 476.67,425.61 477.37,465.48 478.06,425.14 478.75,436.62 479.44,421.08 480.14,447.46 480.83,434.85 481.52,480.71 482.22,427.32 482.91,452.43 483.60,431.29 484.29,448.26 484.99,471.52 485.68,464.74 486.37,439.66 487.07,453.70 487.76,428.61 488.45,482.55 489.14,422.49 489.84,439.56 490.53,436.49 491.22,450.51 491.91,425.66 492.61,440.50 493.30,437.11 493.99,453.50 494.69,482.55 495.38,453.58 496.07,427.76 496.76,448.50 497.46,430.91 498.15,453.63 498.84,435.42 499.53,463.78 500.23,429.63 500.92,465.65 501.61,486.49 502.31,467.46 503.00,425.33 503.69,468.11 504.38,428.38 505.08,466.77 505.77,430.48 506.46,448.17 507.16,433.43 507.85,449.90 508.54,431.44 509.23,454.22 509.93,432.96 510.62,457.28 511.31,422.16 512.00,478.74 512.70,434.26 513.39,437.41 514.08,438.53 514.78,441.26 515.47,429.94 516.16,472.83 516.85,434.31 517.55,455.60 518.24,437.38 518.93,446.03 519.62,468.11 520.32,446.82 521.01,438.87 521.70,449.03 522.40,486.49 523.09,436.21 523.78,434.76 524.47,456.88 525.17,435.02 525.86,458.54 526.55,488.59 527.25,464.03 527.94,434.99 528.63,461.25 529.32,422.93 530.02,453.06 530.71,485.18 531.40,459.48 532.09,439.82 532.79,439.53 533.48,430.60 534.17,467.01 534.87,428.80 535.56,441.56 536.25,428.37 536.94,464.38 537.64,421.94 538.33,454.50 539.02,460.23 539.72,454.45 540.41,431.24 541.10,454.70 541.79,426.28 542.49,443.10 543.18,423.95 543.87,440.90 544.56,482.55 545.26,455.73 545.95,425.57 546.64,454.55 547.34,485.96 548.03,451.50 548.72,434.99 549.41,461.02 550.11,438.33 550.80,454.21 551.49,431.91 552.18,458.18 552.88,436.68 553.57,446.09 554.26,426.92 554.96,444.47 555.65,460.23 556.34,450.49 557.03,430.61 557.73,454.58 558.42,429.44 559.11,461.52 559.81,425.08 560.50,463.34 561.19,437.96 561.88,448.72 562.58,423.07 563.27,443.37 563.96,427.81 564.65,438.33 565.35,489.25 566.04,453.74 566.73,427.97 567.43,459.17 568.12,439.06 568.81,434.46 569.50,458.92 570.20,463.82 570.89,432.23 571.58,453.87 572.27,438.78 572.97,465.48 573.66,423.45 574.35,449.83 575.05,436.58 575.74,468.11 576.43,422.94 577.12,466.08 577.82,432.09 578.51,455.23 579.20,478.09 579.90,453.64 580.59,430.27 581.28,426.35 581.97,431.13 582.67,440.62 583.36,437.82 584.05,466.37 584.74,463.64 585.44,461.26 586.13,434.83 586.82,453.53 587.52,431.86 588.21,445.63 588.90,422.53 589.59,468.11 590.29,422.52 590.98,439.79 591.67,429.94 592.37,454.71 593.06,422.13 593.75,447.04 594.44,422.54 595.14,480.71 595.83,434.60 596.52,463.88 597.21,431.05 597.91,458.84 598.60,437.45" fill="none" stroke="#acdb88" stroke-width="1.2" stroke-linejoin="miter" stroke-miterlimit="2" />
<rect x="72.1" y="413.2" width="526.50" height="89.70" fill="none" stroke="#333" stroke-width="1.3"/>
<line x1="68.9" y1="497.78" x2="72.1" y2="497.78" stroke="#333" stroke-width="1.1" />
<text x="66.6" y="501.38" font-size="10" fill="#2a2a2a" text-anchor="end" font-weight="normal" font-family='"Liberation Sans", sans-serif' textLength="11" lengthAdjust="spacingAndGlyphs" >2.4</text>
<line x1="68.9" y1="471.52" x2="72.1" y2="471.52" stroke="#333" stroke-width="1.1" />
<text x="66.6" y="475.12" font-size="10" fill="#2a2a2a" text-anchor="end" font-weight="normal" font-family='"Liberation Sans", sans-serif' textLength="11" lengthAdjust="spacingAndGlyphs" >2.6</text>
<line x1="68.9" y1="445.26" x2="72.1" y2="445.26" stroke="#333" stroke-width="1.1" />
<text x="66.6" y="448.86" font-size="10" fill="#2a2a2a" text-anchor="end" font-weight="normal" font-family='"Liberation Sans", sans-serif' textLength="11" lengthAdjust="spacingAndGlyphs" >2.8</text>
<line x1="68.9" y1="419" x2="72.1" y2="419" stroke="#333" stroke-width="1.1" />
<text x="66.6" y="422.6" font-size="10" fill="#2a2a2a" text-anchor="end" font-weight="normal" font-family='"Liberation Sans", sans-serif' textLength="11" lengthAdjust="spacingAndGlyphs" >3.0</text>
<line x1="72.1" y1="502.9" x2="72.1" y2="506.7" stroke="#333" stroke-width="1" />
<line x1="177.4" y1="502.9" x2="177.4" y2="506.7" stroke="#333" stroke-width="1" />
<line x1="282.7" y1="502.9" x2="282.7" y2="506.7" stroke="#333" stroke-width="1" />
<line x1="388" y1="502.9" x2="388" y2="506.7" stroke="#333" stroke-width="1" />
<line x1="493.3" y1="502.9" x2="493.3" y2="506.7" stroke="#333" stroke-width="1" />
<line x1="598.6" y1="502.9" x2="598.6" y2="506.7" stroke="#333" stroke-width="1" />
<text x="0" y="0" font-size="11" fill="#2a2a2a" text-anchor="middle" font-weight="normal" font-family='"Liberation Sans", sans-serif' textLength="48" lengthAdjust="spacingAndGlyphs" transform="translate(44.6,457.6) rotate(-90)">rGyr (Å)</text>
<rect x="604.5" y="413.2" width="73.90" height="89.70" fill="none" stroke="#333" stroke-width="1.3"/>
<line x1="601.3" y1="497.78" x2="604.5" y2="497.78" stroke="#333" stroke-width="1.1" />
<line x1="601.3" y1="471.52" x2="604.5" y2="471.52" stroke="#333" stroke-width="1.1" />
<line x1="601.3" y1="445.26" x2="604.5" y2="445.26" stroke="#333" stroke-width="1.1" />
<line x1="601.3" y1="419" x2="604.5" y2="419" stroke="#333" stroke-width="1.1" />
<rect x="605.4" y="418.40" width="20.20" height="5" fill="#b2de8c"/>
<rect x="605.4" y="426.50" width="69.10" height="5" fill="#b2de8c"/>
<rect x="605.4" y="434.90" width="58.10" height="5" fill="#b2de8c"/>
<rect x="605.4" y="443.10" width="34.70" height="5" fill="#b2de8c"/>
<rect x="605.4" y="451.00" width="29.50" height="5" fill="#b2de8c"/>
<rect x="605.4" y="459.20" width="27.20" height="5" fill="#b2de8c"/>
<rect x="605.4" y="467.50" width="18.20" height="5" fill="#b2de8c"/>
<rect x="605.4" y="475.70" width="14.70" height="5" fill="#b2de8c"/>
<rect x="605.4" y="483.90" width="7.90" height="5" fill="#b2de8c"/>
<rect x="605.4" y="491.00" width="0.80" height="5" fill="#b2de8c"/>
<polyline points="72.10,585.64 72.78,584.30 72.84,587.62 73.47,591.48 74.15,586.22 74.84,583.74 75.52,576.39 75.68,579.94 76.21,582.78 76.89,575.46 77.58,578.67 78.26,572.80 78.52,576.22 78.94,581.02 79.63,570.04 80.31,580.75 81.00,571.95 81.37,572.50 81.68,579.74 82.37,580.95 83.05,595.95 83.26,597.05 83.74,593.73 84.42,603.53 85.10,588.33 85.79,598.93 86.10,595.31 86.47,596.55 87.16,594.03 87.84,586.93 88.53,596.90 88.95,591.34 89.21,588.01 89.90,593.68 90.58,585.59 91.26,592.45 91.90,585.64 91.95,583.92 92.63,586.95 93.32,582.23 94.00,593.47 94.69,590.13 94.74,589.61 95.37,590.91 96.06,579.14 96.74,587.48 97.42,577.99 97.58,583.90 98.11,580.19 98.79,564.18 98.85,563.07 99.48,571.17 100.16,567.25 100.43,576.22 100.85,582.19 101.53,574.63 102.22,584.96 102.90,572.39 103.27,579.94 103.58,583.53 104.27,579.01 104.95,586.36 105.16,585.64 105.64,577.28 106.32,573.92 107.01,555.53 107.06,556.38 107.69,570.83 108.38,567.50 108.95,579.94 109.06,581.88 109.74,582.51 110.43,595.44 110.85,595.31 111.11,589.47 111.80,591.24 112.48,581.64 113.17,590.72 113.69,581.92 113.85,575.20 114.54,584.82 115.22,574.22 115.90,576.60 116.22,572.50 116.59,567.45 117.27,577.33 117.96,572.23 118.43,578.20 118.64,582.43 119.33,573.33 120.01,585.83 120.33,581.92 120.70,580.16 121.38,586.06 122.06,583.22 122.75,598.61 123.17,593.33 123.43,590.26 124.12,595.73 124.80,587.95 125.49,596.61 126.17,594.47 126.86,599.80 126.96,597.05 127.54,593.34 128.22,603.01 128.91,593.84 129.59,605.85 129.91,599.03 130.28,596.32 130.96,608.95 131.65,599.31 131.81,608.46 132.33,609.71 133.02,601.19 133.70,604.80 134.38,594.60 134.65,597.05 135.07,601.56 135.75,597.48 136.44,605.10 137.12,594.95 137.81,605.62 138.33,599.03 138.49,590.95 139.18,603.65 139.86,595.25 140.54,601.96 141.23,595.67 141.91,603.46 142.23,601.02 142.60,597.17 143.28,605.60 143.97,596.18 144.65,605.34 145.34,588.95 146.02,597.05 146.71,603.33 147.39,595.42 148.07,600.86 148.76,593.53 149.44,596.48 149.81,595.31 150.13,586.99 150.81,599.88 151.50,591.19 152.18,597.80 152.87,589.79 153.55,591.77 153.60,591.34 154.23,589.09 154.92,596.49 155.60,589.75 156.29,604.00 156.55,599.03 156.97,593.77 157.66,599.65 158.34,592.56 159.03,605.20 159.29,595.31 159.71,583.22 160.39,595.25 161.08,574.83 161.18,581.92 161.76,590.63 162.45,593.91 163.08,604.74 163.13,609.57 163.82,586.09 164.50,578.44 165.19,558.79 165.61,553.40 165.87,558.00 166.55,557.02 167.24,568.17 167.82,568.78 167.92,567.95 168.61,578.49 169.29,575.71 169.98,587.82 170.66,589.61 170.66,582.28 171.35,589.35 172.03,577.30 172.71,581.28 173.40,568.45 173.50,572.50 174.08,583.13 174.77,574.60 175.45,586.26 176.14,584.96 176.45,591.34 176.82,595.19 177.51,582.33 178.19,580.23 178.87,566.62 179.19,572.50 179.56,578.26 180.24,573.75 180.93,588.73 181.61,585.01 182.14,591.34 182.30,592.17 182.98,585.37 183.67,586.49 184.35,574.21 184.98,570.51 185.03,575.09 185.72,572.23 186.40,591.31 187.09,585.26 187.77,598.61 187.82,595.31 188.46,590.73 189.14,589.10 189.83,583.21 190.51,582.90 190.67,579.94 191.19,580.61 191.88,590.97 192.56,589.10 193.25,600.02 193.51,597.05 193.93,592.65 194.62,594.56 195.30,581.32 195.99,593.74 196.67,579.64 197.30,583.90 197.35,586.37 198.04,584.37 198.72,594.18 198.99,587.62 199.41,578.46 200.09,585.37 200.78,572.01 201.46,581.32 202.15,566.07 202.78,568.78 202.83,574.46 203.51,560.97 204.20,572.91 204.67,566.79 204.88,563.79 205.57,576.63 206.25,582.51 206.57,587.62 206.94,589.42 207.62,582.19 208.31,582.01 208.99,576.37 209.41,578.20 209.67,579.20 210.36,576.42 211.04,586.64 211.73,574.78 212.25,581.92 212.41,587.32 213.10,585.49 213.62,597.05 213.78,598.68 214.47,585.82 215.15,585.94 215.83,570.61 216.05,574.23 216.52,580.30 217.20,570.86 217.89,581.18 218.57,580.99 218.89,581.92 219.26,587.73 219.94,576.67 220.63,581.22 221.31,575.77 221.73,578.20 221.99,581.87 222.68,572.43 223.36,578.43 224.05,570.49 224.57,576.22 224.73,582.35 225.42,576.95 226.10,588.03 226.79,580.75 227.47,591.13 227.52,587.62 228.15,588.10 228.84,599.14 229.52,591.93 230.21,599.88 230.89,592.96 231.31,595.31 231.58,600.19 232.26,587.72 232.95,596.79 233.63,585.76 234.16,585.64 234.31,591.28 235.00,582.66 235.68,594.70 236.37,583.30 237.00,589.61 237.05,592.65 237.74,576.18 238.42,579.29 239.11,563.88 239.21,570.51 239.79,577.76 240.47,573.51 241.16,585.62 241.74,585.64 241.84,578.70 242.53,594.83 243.21,580.77 243.90,591.18 244.48,589.61 244.58,587.14 245.27,590.47 245.95,585.85 246.63,595.56 247.32,586.16 248.00,595.77 248.27,589.61 248.69,585.13 249.37,587.74 250.06,575.17 250.74,580.44 251.22,570.51 251.43,566.84 252.11,575.21 252.79,570.61 253.48,578.44 254.06,574.23 254.16,574.81 254.85,577.64 255.53,573.86 256.22,576.81 256.90,572.50 257.59,571.11 258.27,576.72 258.95,563.43 259.64,571.71 259.74,568.78 260.32,566.59 261.01,585.96 261.64,589.61 261.69,583.77 262.38,592.69 263.06,581.55 263.75,586.08 264.43,575.08 264.48,578.20 265.11,588.82 265.80,579.86 266.48,592.15 267.17,588.71 267.33,591.34 267.85,595.39 268.54,575.02 269.22,578.38 269.91,563.12 270.27,559.10 270.59,564.76 271.27,556.53 271.96,568.31 272.17,563.07 272.64,575.50 273.01,595.31 273.33,599.74 274.01,585.02 274.70,588.72 275.38,583.33 275.96,581.92 276.07,584.44 276.75,574.48 277.44,588.26 278.12,582.99 278.80,585.64 279.49,585.34 280.17,569.43 280.70,572.50 280.86,578.83 281.54,571.54 282.23,580.09 282.91,573.28 283.54,579.94 283.60,580.96 284.28,577.85 284.96,585.30 285.65,583.85 286.33,592.38 286.39,587.62 287.02,586.72 287.70,598.96 288.39,595.54 288.70,601.02 289.07,594.50 289.76,585.35 290.44,577.77 290.81,570.51 291.12,572.71 291.81,580.86 292.49,573.94 293.18,581.82 293.86,583.44 293.97,585.64 294.55,589.52 295.23,580.75 295.92,589.49 296.60,583.40 296.81,589.61 297.28,588.54 297.97,573.40 298.65,579.99 299.23,572.50 299.34,569.27 300.02,573.01 300.71,563.04 301.39,568.35 301.55,566.79 302.08,564.92 302.76,579.29 303.44,569.43 304.13,586.70 304.39,581.92 304.81,580.43 305.50,591.82 306.18,583.25 306.87,588.31 307.34,589.61 307.55,586.02 308.24,588.50 308.92,583.73 309.60,583.42 310.08,576.22 310.29,576.82 310.97,590.49 311.66,586.21 312.34,602.52 313.03,601.02 313.71,596.58 314.40,600.39 315.08,591.85 315.76,596.91 316.45,589.89 316.82,593.33 317.13,597.92 317.82,590.31 318.50,594.38 319.19,595.41 319.87,604.61 320.56,588.77 320.61,597.05 321.24,601.49 321.92,593.56 322.61,598.72 323.29,587.35 323.98,591.24 324.08,589.61 324.66,586.96 325.35,598.57 326.03,592.68 326.72,600.34 327.40,595.75 327.87,602.75 328.08,603.77 328.77,598.01 329.45,603.26 330.14,594.73 330.82,597.46 331.51,585.19 331.77,591.34 332.19,598.72 332.88,594.94 333.56,604.62 334.24,595.45 334.93,609.60 335.14,606.72 335.61,598.69 336.30,596.80 336.98,586.41 337.46,585.64 337.67,589.03 338.35,578.49 339.04,587.69 339.35,581.92 339.72,580.15 340.40,597.30 341.09,593.92 341.25,597.05 341.77,597.53 342.46,590.27 343.14,589.79 343.83,579.52 344.09,583.90 344.51,586.86 345.20,588.98 345.88,592.78 346.56,591.44 346.93,597.05 347.25,600.14 347.93,592.56 348.62,595.81 349.30,592.65 349.99,597.99 350.67,585.07 350.72,591.34 351.36,597.24 352.04,585.61 352.72,587.27 353.41,580.96 353.57,581.92 354.09,589.97 354.78,594.13 355.46,604.74 356.15,600.77 356.83,577.58 356.94,575.22 357.52,583.64 358.20,579.99 358.88,596.28 359.25,597.05 359.57,597.55 360.25,599.08 360.94,593.16 361.62,598.43 362.31,591.26 362.99,600.36 363.04,595.31 363.68,590.82 364.36,596.72 365.04,584.80 365.73,595.21 365.89,589.61 366.41,584.37 367.10,598.27 367.78,595.33 368.47,605.85 368.73,601.02 369.15,595.12 369.84,601.52 370.52,591.85 371.20,591.58 371.57,589.61 371.89,585.32 372.57,593.69 373.26,582.04 373.94,592.12 374.42,587.62 374.63,583.63 375.31,585.11 376.00,573.31 376.31,576.22 376.68,575.18 377.36,565.92 378.05,562.50 378.31,561.09 378.73,558.99 379.42,568.26 380.10,559.94 380.21,568.78 380.79,573.44 381.47,575.54 382.10,581.92 382.16,586.67 382.84,570.46 383.52,576.76 384.00,570.51 384.21,565.27 384.89,575.93 385.58,574.84 385.89,581.92 386.26,583.29 386.95,577.06 387.63,586.99 388.32,582.38 388.74,587.62 389.00,592.82 389.68,577.40 390.37,582.33 391.05,573.00 391.58,574.23 391.74,575.50 392.42,563.53 392.95,563.07 393.11,565.93 393.79,562.97 394.48,572.72 395.16,567.95 395.37,574.23 395.84,583.31 396.53,588.62 397.21,602.25 397.27,595.31 397.90,591.76 398.58,595.26 399.27,584.31 399.95,592.75 400.11,585.64 400.64,576.99 401.32,586.95 402.00,584.28 402.69,583.82 402.95,579.94 403.37,575.35 404.06,593.40 404.74,586.20 404.85,589.61 405.43,596.53 406.11,595.08 406.80,607.91 407.16,604.74 407.48,601.27 408.16,602.08 408.85,591.55 409.53,599.96 409.59,593.33 410.22,587.34 410.90,591.77 411.59,581.92 411.59,577.25 412.27,570.75 412.85,551.66 412.96,546.84 413.64,560.61 414.33,563.07 415.01,561.68 415.69,579.04 416.22,578.20 416.38,573.27 417.06,575.94 417.75,566.16 418.12,568.78 418.43,575.91 419.12,566.86 419.80,583.68 420.01,576.22 420.49,559.27 421.17,554.64 421.85,526.23 421.91,528.85 422.54,546.80 423.22,557.09 423.80,576.22 423.91,578.30 424.59,566.15 425.28,568.33 425.49,563.07 425.96,564.24 426.65,584.87 426.75,581.92 427.33,582.95 428.01,596.34 428.70,590.07 429.38,598.00 429.59,599.03 430.07,592.35 430.75,594.17 431.44,580.85 432.12,587.34 432.44,581.92 432.81,581.78 433.49,595.13 434.17,584.43 434.86,604.80 435.28,601.02 435.54,598.41 436.23,598.82 436.91,589.11 437.60,593.52 438.12,583.90 438.28,581.07 438.97,591.24 439.65,581.69 440.33,591.67 441.02,589.67 441.70,598.97 441.91,595.31 442.39,587.07 443.07,597.45 443.76,589.25 444.44,594.14 445.13,586.70 445.70,587.62 445.81,589.79 446.49,581.42 447.18,591.82 447.86,587.94 448.55,596.02 448.86,592.83 449.23,588.10 449.92,593.93 450.60,584.89 451.29,594.81 451.97,582.84 452.23,586.14 452.65,590.62 453.34,583.73 454.02,603.46 454.55,597.30 454.71,589.20 455.39,590.31 456.08,563.13 456.76,558.86 457.45,568.14 458.13,566.54 458.81,580.26 459.08,579.19 459.50,572.17 460.18,581.85 460.87,564.70 461.29,572.50 461.55,577.09 462.24,570.95 462.92,580.52 463.61,581.67 464.29,580.84 464.97,586.74 465.66,574.42 465.82,579.19 466.34,579.80 467.03,569.24 467.71,572.01 468.40,563.08 468.77,565.80 469.08,569.59 469.77,567.14 470.45,579.09 471.13,577.12 471.50,581.67 471.82,590.33 472.50,579.71 473.19,586.86 473.71,588.37 473.87,584.43 474.56,598.69 475.24,597.50 475.93,610.44 476.03,607.71 476.61,598.80 477.29,600.93 477.98,576.84 478.24,579.19 478.66,584.51 479.35,568.69 480.03,576.64 480.72,569.95 481.30,565.80 481.40,566.25 482.09,564.65 482.77,572.90 483.45,567.59 483.51,570.26 484.14,556.07 484.82,533.80 485.09,528.35 485.51,544.60 486.19,544.52 486.88,564.01 487.40,570.26 487.56,566.07 488.25,577.97 488.93,572.06 489.61,576.96 490.30,578.74 490.98,568.79 491.67,571.00 492.35,564.36 492.98,563.57 493.04,565.85 493.72,561.55 494.41,578.84 495.09,582.88 495.30,586.14 495.77,589.57 496.46,583.78 497.14,585.90 497.83,582.52 498.51,583.26 498.67,581.67 499.20,583.11 499.88,590.25 500.57,578.31 501.25,599.14 501.93,590.45 502.15,592.83 502.62,599.83 503.30,596.48 503.99,608.69 504.36,604.24 504.67,597.07 505.36,603.17 506.04,592.88 506.73,599.44 507.41,583.99 507.73,588.37 508.09,594.46 508.78,589.05 509.46,596.09 510.15,592.41 510.83,597.66 511.20,599.78 511.52,598.13 512.20,599.45 512.89,589.79 513.57,591.72 514.25,583.40 514.57,588.37 514.94,595.47 515.62,586.84 516.31,595.63 516.99,588.74 517.68,597.29 517.94,592.83 518.36,589.59 519.05,600.13 519.73,595.07 520.41,601.50 521.10,601.06 521.42,604.24 521.78,610.44 522.47,595.43 523.15,599.50 523.84,587.61 524.52,596.32 524.78,588.37 525.21,586.72 525.89,599.93 526.57,583.15 527.26,598.14 527.94,586.34 528.15,592.83 528.63,587.25 529.31,578.83 530.00,586.65 530.68,568.99 531.37,575.44 531.52,570.26 532.05,570.95 532.73,576.82 533.42,573.86 534.10,582.42 534.79,578.57 535.00,581.67 535.47,588.70 536.16,578.64 536.84,591.34 537.53,583.70 538.21,591.10 538.37,588.37 538.89,582.19 539.58,589.16 540.26,577.87 540.95,581.52 541.63,572.50 541.84,574.73 542.32,580.17 543.00,575.95 543.69,582.37 544.37,574.67 545.05,589.95 545.21,581.67 545.74,582.29 546.42,587.16 547.11,578.48 547.79,591.24 548.48,582.66 548.58,588.37 549.16,591.51 549.85,582.00 550.53,592.86 551.22,582.12 551.90,589.12 552.06,586.14 552.58,580.53 553.27,584.76 553.95,571.25 554.64,574.93 555.32,566.82 555.43,572.50 556.01,579.06 556.69,571.24 557.38,584.90 558.06,577.75 558.74,590.39 558.80,583.90 559.43,580.78 560.11,592.48 560.80,589.43 561.48,593.20 562.17,595.31 562.17,590.11 562.85,595.19 563.54,588.53 564.22,591.73 564.90,574.44 565.59,581.51 566.27,573.82 566.69,572.50 566.96,577.53 567.64,571.88 568.33,585.96 569.01,579.02 569.70,592.55 570.17,590.60 570.38,588.47 571.06,593.80 571.75,587.28 572.43,595.84 573.12,586.13 573.54,586.14 573.80,585.08 574.49,585.96 575.17,595.18 575.86,591.38 576.54,598.50 576.91,597.30 577.22,586.63 577.91,595.65 578.59,582.67 579.28,591.79 579.96,572.47 580.28,579.19 580.65,581.99 581.33,580.65 582.02,586.58 582.70,583.90 583.38,596.45 583.65,590.60 584.07,587.20 584.75,591.58 585.44,589.77 586.12,593.67 586.81,586.35 587.12,588.37 587.49,585.22 588.18,577.97 588.86,588.53 589.54,577.34 590.23,582.37 590.49,579.19 590.91,577.51 591.60,589.33 592.28,575.57 592.97,591.11 593.65,582.77 593.86,586.14 594.34,588.55 595.02,576.50 595.70,580.18 596.39,569.57 596.81,574.73 597.07,581.88 597.76,578.58 598.39,586.14 598.44,591.22 598.60,588.12" fill="none" stroke="#a6cde2" stroke-width="1.3" stroke-linejoin="miter" stroke-miterlimit="2" />
<rect x="72.1" y="525.2" width="526.50" height="87.70" fill="none" stroke="#333" stroke-width="1.3"/>
<line x1="68.9" y1="590.6" x2="72.1" y2="590.6" stroke="#333" stroke-width="1.1" />
<text x="66.2" y="594" font-size="9.6" fill="#2a2a2a" text-anchor="end" font-weight="normal" font-family='"Liberation Sans", sans-serif' textLength="12.8" lengthAdjust="spacingAndGlyphs" >100</text>
<line x1="68.9" y1="565.8" x2="72.1" y2="565.8" stroke="#333" stroke-width="1.1" />
<text x="66.2" y="569.2" font-size="9.6" fill="#2a2a2a" text-anchor="end" font-weight="normal" font-family='"Liberation Sans", sans-serif' textLength="12.8" lengthAdjust="spacingAndGlyphs" >200</text>
<line x1="68.9" y1="541" x2="72.1" y2="541" stroke="#333" stroke-width="1.1" />
<text x="66.2" y="544.4" font-size="9.6" fill="#2a2a2a" text-anchor="end" font-weight="normal" font-family='"Liberation Sans", sans-serif' textLength="12.8" lengthAdjust="spacingAndGlyphs" >300</text>
<line x1="72.1" y1="612.9" x2="72.1" y2="617.1" stroke="#333" stroke-width="1" />
<line x1="177.4" y1="612.9" x2="177.4" y2="617.1" stroke="#333" stroke-width="1" />
<line x1="282.7" y1="612.9" x2="282.7" y2="617.1" stroke="#333" stroke-width="1" />
<line x1="388" y1="612.9" x2="388" y2="617.1" stroke="#333" stroke-width="1" />
<line x1="493.3" y1="612.9" x2="493.3" y2="617.1" stroke="#333" stroke-width="1" />
<line x1="598.6" y1="612.9" x2="598.6" y2="617.1" stroke="#333" stroke-width="1" />
<text x="72.9" y="633.8" font-size="13.2" fill="#1a1a1a" text-anchor="middle" font-weight="normal" font-family='"Liberation Sans", sans-serif' >0</text>
<text x="175" y="633.8" font-size="13.2" fill="#1a1a1a" text-anchor="middle" font-weight="normal" font-family='"Liberation Sans", sans-serif' >100</text>
<text x="279.7" y="633.8" font-size="13.2" fill="#1a1a1a" text-anchor="middle" font-weight="normal" font-family='"Liberation Sans", sans-serif' >200</text>
<text x="385.9" y="633.8" font-size="13.2" fill="#1a1a1a" text-anchor="middle" font-weight="normal" font-family='"Liberation Sans", sans-serif' >300</text>
<text x="488.1" y="633.8" font-size="13.2" fill="#1a1a1a" text-anchor="middle" font-weight="normal" font-family='"Liberation Sans", sans-serif' >400</text>
<text x="591.4" y="633.8" font-size="13.2" fill="#1a1a1a" text-anchor="middle" font-weight="normal" font-family='"Liberation Sans", sans-serif' >500</text>
<text x="355" y="662.2" font-size="13.4" fill="#1a1a1a" text-anchor="middle" font-weight="normal" font-family='"Liberation Sans", sans-serif' textLength="68.6" lengthAdjust="spacingAndGlyphs" >Time (nsec)</text>
<text x="0" y="0" font-size="11" fill="#2a2a2a" text-anchor="middle" font-weight="normal" font-family='"Liberation Sans", sans-serif' textLength="62.6" lengthAdjust="spacingAndGlyphs" transform="translate(44.4,568.7) rotate(-90)">SASA (Å ²)</text>
<rect x="604.5" y="525.2" width="73.90" height="87.70" fill="none" stroke="#333" stroke-width="1.3"/>
<line x1="601.3" y1="590.6" x2="604.5" y2="590.6" stroke="#333" stroke-width="1.1" />
<line x1="601.3" y1="565.8" x2="604.5" y2="565.8" stroke="#333" stroke-width="1.1" />
<line x1="601.3" y1="541" x2="604.5" y2="541" stroke="#333" stroke-width="1.1" />
<rect x="605.4" y="554.30" width="0.50" height="5" fill="#a6cde2"/>
<rect x="605.4" y="561.90" width="4.20" height="5" fill="#a6cde2"/>
<rect x="605.4" y="570.40" width="17.90" height="5" fill="#a6cde2"/>
<rect x="605.4" y="578.40" width="48.50" height="5" fill="#a6cde2"/>
<rect x="605.4" y="586.40" width="69.10" height="5" fill="#a6cde2"/>
<rect x="605.4" y="594.10" width="58.10" height="5" fill="#a6cde2"/>
<rect x="605.4" y="602.40" width="9.40" height="5" fill="#a6cde2"/>
</svg>
</body></html>
